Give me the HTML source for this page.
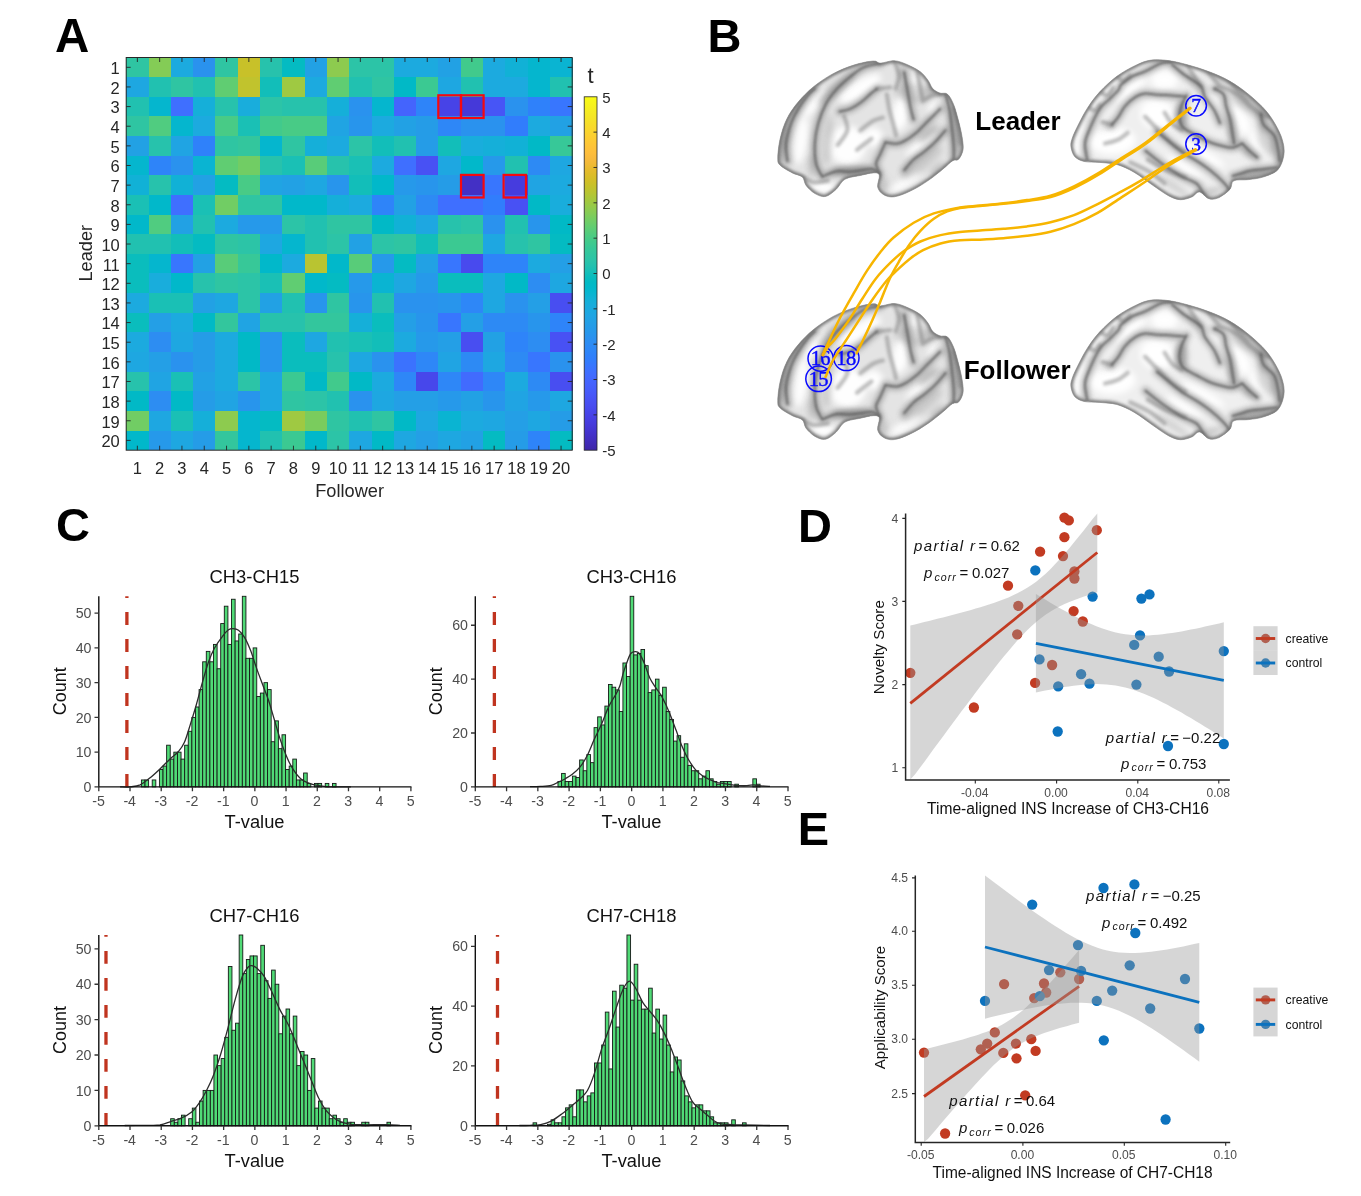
<!DOCTYPE html>
<html><head><meta charset="utf-8"><title>Figure</title>
<style>html,body{margin:0;padding:0;background:#fff}svg{display:block}</style>
</head><body>
<svg width="1361" height="1196" viewBox="0 0 1361 1196">
<rect width="1361" height="1196" fill="#ffffff"/>
<g id="panelA" font-family="'Liberation Sans', Arial, sans-serif">
<text x="55" y="52.3" font-size="47.5" font-weight="bold" fill="#000">A</text>
<g shape-rendering="crispEdges">
<rect x="126.20" y="57.50" width="22.60" height="19.93" fill="#2fc5a2"/>
<rect x="148.50" y="57.50" width="22.60" height="19.93" fill="#84cc56"/>
<rect x="170.80" y="57.50" width="22.60" height="19.93" fill="#1caadf"/>
<rect x="193.10" y="57.50" width="22.60" height="19.93" fill="#2a92ee"/>
<rect x="215.40" y="57.50" width="22.60" height="19.93" fill="#2fc5a2"/>
<rect x="237.70" y="57.50" width="22.60" height="19.93" fill="#c8c129"/>
<rect x="260.00" y="57.50" width="22.60" height="19.93" fill="#27c2ac"/>
<rect x="282.30" y="57.50" width="22.60" height="19.93" fill="#04bbc2"/>
<rect x="304.60" y="57.50" width="22.60" height="19.93" fill="#22a1e4"/>
<rect x="326.90" y="57.50" width="22.60" height="19.93" fill="#8dcb4f"/>
<rect x="349.20" y="57.50" width="22.60" height="19.93" fill="#2cc4a7"/>
<rect x="371.50" y="57.50" width="22.60" height="19.93" fill="#2cc4a7"/>
<rect x="393.80" y="57.50" width="22.60" height="19.93" fill="#1caadf"/>
<rect x="416.10" y="57.50" width="22.60" height="19.93" fill="#1caadf"/>
<rect x="438.40" y="57.50" width="22.60" height="19.93" fill="#22a1e4"/>
<rect x="460.70" y="57.50" width="22.60" height="19.93" fill="#41ca8c"/>
<rect x="483.00" y="57.50" width="22.60" height="19.93" fill="#1caadf"/>
<rect x="505.30" y="57.50" width="22.60" height="19.93" fill="#11b1d6"/>
<rect x="527.60" y="57.50" width="22.60" height="19.93" fill="#05b6ce"/>
<rect x="549.90" y="57.50" width="22.60" height="19.93" fill="#0ab4d2"/>
<rect x="126.20" y="77.13" width="22.60" height="19.93" fill="#1ea7e1"/>
<rect x="148.50" y="77.13" width="22.60" height="19.93" fill="#21c1b0"/>
<rect x="170.80" y="77.13" width="22.60" height="19.93" fill="#2fc5a2"/>
<rect x="193.10" y="77.13" width="22.60" height="19.93" fill="#21c1b0"/>
<rect x="215.40" y="77.13" width="22.60" height="19.93" fill="#60cd72"/>
<rect x="237.70" y="77.13" width="22.60" height="19.93" fill="#c1c32d"/>
<rect x="260.00" y="77.13" width="22.60" height="19.93" fill="#12beb9"/>
<rect x="282.30" y="77.13" width="22.60" height="19.93" fill="#9fc942"/>
<rect x="304.60" y="77.13" width="22.60" height="19.93" fill="#1caadf"/>
<rect x="326.90" y="77.13" width="22.60" height="19.93" fill="#60cd72"/>
<rect x="349.20" y="77.13" width="22.60" height="19.93" fill="#21c1b0"/>
<rect x="371.50" y="77.13" width="22.60" height="19.93" fill="#2fc5a2"/>
<rect x="393.80" y="77.13" width="22.60" height="19.93" fill="#01b9c6"/>
<rect x="416.10" y="77.13" width="22.60" height="19.93" fill="#3bc992"/>
<rect x="438.40" y="77.13" width="22.60" height="19.93" fill="#1ea7e1"/>
<rect x="460.70" y="77.13" width="22.60" height="19.93" fill="#21c1b0"/>
<rect x="483.00" y="77.13" width="22.60" height="19.93" fill="#1caadf"/>
<rect x="505.30" y="77.13" width="22.60" height="19.93" fill="#1caadf"/>
<rect x="527.60" y="77.13" width="22.60" height="19.93" fill="#05b6ce"/>
<rect x="549.90" y="77.13" width="22.60" height="19.93" fill="#21c1b0"/>
<rect x="126.20" y="96.77" width="22.60" height="19.93" fill="#21c1b0"/>
<rect x="148.50" y="96.77" width="22.60" height="19.93" fill="#05b6ce"/>
<rect x="170.80" y="96.77" width="22.60" height="19.93" fill="#3f6fff"/>
<rect x="193.10" y="96.77" width="22.60" height="19.93" fill="#15afd9"/>
<rect x="215.40" y="96.77" width="22.60" height="19.93" fill="#27c2ac"/>
<rect x="237.70" y="96.77" width="22.60" height="19.93" fill="#19addc"/>
<rect x="260.00" y="96.77" width="22.60" height="19.93" fill="#2cc4a7"/>
<rect x="282.30" y="96.77" width="22.60" height="19.93" fill="#27c2ac"/>
<rect x="304.60" y="96.77" width="22.60" height="19.93" fill="#27c2ac"/>
<rect x="326.90" y="96.77" width="22.60" height="19.93" fill="#15afd9"/>
<rect x="349.20" y="96.77" width="22.60" height="19.93" fill="#2a92ee"/>
<rect x="371.50" y="96.77" width="22.60" height="19.93" fill="#05b6ce"/>
<rect x="393.80" y="96.77" width="22.60" height="19.93" fill="#4464fd"/>
<rect x="416.10" y="96.77" width="22.60" height="19.93" fill="#2e84f9"/>
<rect x="438.40" y="96.77" width="22.60" height="19.93" fill="#4743e7"/>
<rect x="460.70" y="96.77" width="22.60" height="19.93" fill="#4539d9"/>
<rect x="483.00" y="96.77" width="22.60" height="19.93" fill="#4755f6"/>
<rect x="505.30" y="96.77" width="22.60" height="19.93" fill="#2a92ee"/>
<rect x="527.60" y="96.77" width="22.60" height="19.93" fill="#2f81fa"/>
<rect x="549.90" y="96.77" width="22.60" height="19.93" fill="#3876fe"/>
<rect x="126.20" y="116.41" width="22.60" height="19.93" fill="#2fc5a2"/>
<rect x="148.50" y="116.41" width="22.60" height="19.93" fill="#50cc80"/>
<rect x="170.80" y="116.41" width="22.60" height="19.93" fill="#05b6ce"/>
<rect x="193.10" y="116.41" width="22.60" height="19.93" fill="#1caadf"/>
<rect x="215.40" y="116.41" width="22.60" height="19.93" fill="#48cb86"/>
<rect x="237.70" y="116.41" width="22.60" height="19.93" fill="#1ac0b5"/>
<rect x="260.00" y="116.41" width="22.60" height="19.93" fill="#41ca8c"/>
<rect x="282.30" y="116.41" width="22.60" height="19.93" fill="#48cb86"/>
<rect x="304.60" y="116.41" width="22.60" height="19.93" fill="#48cb86"/>
<rect x="326.90" y="116.41" width="22.60" height="19.93" fill="#20a4e3"/>
<rect x="349.20" y="116.41" width="22.60" height="19.93" fill="#2895ec"/>
<rect x="371.50" y="116.41" width="22.60" height="19.93" fill="#1caadf"/>
<rect x="393.80" y="116.41" width="22.60" height="19.93" fill="#22a1e4"/>
<rect x="416.10" y="116.41" width="22.60" height="19.93" fill="#259ce7"/>
<rect x="438.40" y="116.41" width="22.60" height="19.93" fill="#2e87f7"/>
<rect x="460.70" y="116.41" width="22.60" height="19.93" fill="#2a92ee"/>
<rect x="483.00" y="116.41" width="22.60" height="19.93" fill="#2a92ee"/>
<rect x="505.30" y="116.41" width="22.60" height="19.93" fill="#317dfc"/>
<rect x="527.60" y="116.41" width="22.60" height="19.93" fill="#1caadf"/>
<rect x="549.90" y="116.41" width="22.60" height="19.93" fill="#22a1e4"/>
<rect x="126.20" y="136.04" width="22.60" height="19.93" fill="#22a1e4"/>
<rect x="148.50" y="136.04" width="22.60" height="19.93" fill="#27c2ac"/>
<rect x="170.80" y="136.04" width="22.60" height="19.93" fill="#20a4e3"/>
<rect x="193.10" y="136.04" width="22.60" height="19.93" fill="#2f81fa"/>
<rect x="215.40" y="136.04" width="22.60" height="19.93" fill="#2fc5a2"/>
<rect x="237.70" y="136.04" width="22.60" height="19.93" fill="#33c69d"/>
<rect x="260.00" y="136.04" width="22.60" height="19.93" fill="#05b6ce"/>
<rect x="282.30" y="136.04" width="22.60" height="19.93" fill="#2fc5a2"/>
<rect x="304.60" y="136.04" width="22.60" height="19.93" fill="#15afd9"/>
<rect x="326.90" y="136.04" width="22.60" height="19.93" fill="#1caadf"/>
<rect x="349.20" y="136.04" width="22.60" height="19.93" fill="#2cc4a7"/>
<rect x="371.50" y="136.04" width="22.60" height="19.93" fill="#12beb9"/>
<rect x="393.80" y="136.04" width="22.60" height="19.93" fill="#21c1b0"/>
<rect x="416.10" y="136.04" width="22.60" height="19.93" fill="#259ce7"/>
<rect x="438.40" y="136.04" width="22.60" height="19.93" fill="#12beb9"/>
<rect x="460.70" y="136.04" width="22.60" height="19.93" fill="#19addc"/>
<rect x="483.00" y="136.04" width="22.60" height="19.93" fill="#15afd9"/>
<rect x="505.30" y="136.04" width="22.60" height="19.93" fill="#11b1d6"/>
<rect x="527.60" y="136.04" width="22.60" height="19.93" fill="#01b9c6"/>
<rect x="549.90" y="136.04" width="22.60" height="19.93" fill="#37c898"/>
<rect x="126.20" y="155.67" width="22.60" height="19.93" fill="#05b6ce"/>
<rect x="148.50" y="155.67" width="22.60" height="19.93" fill="#2e84f9"/>
<rect x="170.80" y="155.67" width="22.60" height="19.93" fill="#2a92ee"/>
<rect x="193.10" y="155.67" width="22.60" height="19.93" fill="#0ab4d2"/>
<rect x="215.40" y="155.67" width="22.60" height="19.93" fill="#60cd72"/>
<rect x="237.70" y="155.67" width="22.60" height="19.93" fill="#71cd64"/>
<rect x="260.00" y="155.67" width="22.60" height="19.93" fill="#27c2ac"/>
<rect x="282.30" y="155.67" width="22.60" height="19.93" fill="#1ac0b5"/>
<rect x="304.60" y="155.67" width="22.60" height="19.93" fill="#58cc79"/>
<rect x="326.90" y="155.67" width="22.60" height="19.93" fill="#27c2ac"/>
<rect x="349.20" y="155.67" width="22.60" height="19.93" fill="#1ac0b5"/>
<rect x="371.50" y="155.67" width="22.60" height="19.93" fill="#1caadf"/>
<rect x="393.80" y="155.67" width="22.60" height="19.93" fill="#3f6fff"/>
<rect x="416.10" y="155.67" width="22.60" height="19.93" fill="#4851f4"/>
<rect x="438.40" y="155.67" width="22.60" height="19.93" fill="#1ea7e1"/>
<rect x="460.70" y="155.67" width="22.60" height="19.93" fill="#01b8ca"/>
<rect x="483.00" y="155.67" width="22.60" height="19.93" fill="#2699ea"/>
<rect x="505.30" y="155.67" width="22.60" height="19.93" fill="#21c1b0"/>
<rect x="527.60" y="155.67" width="22.60" height="19.93" fill="#2d8af4"/>
<rect x="549.90" y="155.67" width="22.60" height="19.93" fill="#1ea7e1"/>
<rect x="126.20" y="175.31" width="22.60" height="19.93" fill="#11b1d6"/>
<rect x="148.50" y="175.31" width="22.60" height="19.93" fill="#27c2ac"/>
<rect x="170.80" y="175.31" width="22.60" height="19.93" fill="#11b1d6"/>
<rect x="193.10" y="175.31" width="22.60" height="19.93" fill="#22a1e4"/>
<rect x="215.40" y="175.31" width="22.60" height="19.93" fill="#04bbc2"/>
<rect x="237.70" y="175.31" width="22.60" height="19.93" fill="#48cb86"/>
<rect x="260.00" y="175.31" width="22.60" height="19.93" fill="#20a4e3"/>
<rect x="282.30" y="175.31" width="22.60" height="19.93" fill="#22a1e4"/>
<rect x="304.60" y="175.31" width="22.60" height="19.93" fill="#1ea7e1"/>
<rect x="326.90" y="175.31" width="22.60" height="19.93" fill="#2895ec"/>
<rect x="349.20" y="175.31" width="22.60" height="19.93" fill="#12beb9"/>
<rect x="371.50" y="175.31" width="22.60" height="19.93" fill="#01b8ca"/>
<rect x="393.80" y="175.31" width="22.60" height="19.93" fill="#2699ea"/>
<rect x="416.10" y="175.31" width="22.60" height="19.93" fill="#2895ec"/>
<rect x="438.40" y="175.31" width="22.60" height="19.93" fill="#259ce7"/>
<rect x="460.70" y="175.31" width="22.60" height="19.93" fill="#4330c5"/>
<rect x="483.00" y="175.31" width="22.60" height="19.93" fill="#3876fe"/>
<rect x="505.30" y="175.31" width="22.60" height="19.93" fill="#463cde"/>
<rect x="527.60" y="175.31" width="22.60" height="19.93" fill="#20a4e3"/>
<rect x="549.90" y="175.31" width="22.60" height="19.93" fill="#1caadf"/>
<rect x="126.20" y="194.94" width="22.60" height="19.93" fill="#1ac0b5"/>
<rect x="148.50" y="194.94" width="22.60" height="19.93" fill="#01b8ca"/>
<rect x="170.80" y="194.94" width="22.60" height="19.93" fill="#3f6fff"/>
<rect x="193.10" y="194.94" width="22.60" height="19.93" fill="#1ac0b5"/>
<rect x="215.40" y="194.94" width="22.60" height="19.93" fill="#71cd64"/>
<rect x="237.70" y="194.94" width="22.60" height="19.93" fill="#2fc5a2"/>
<rect x="260.00" y="194.94" width="22.60" height="19.93" fill="#2fc5a2"/>
<rect x="282.30" y="194.94" width="22.60" height="19.93" fill="#01b8ca"/>
<rect x="304.60" y="194.94" width="22.60" height="19.93" fill="#01b8ca"/>
<rect x="326.90" y="194.94" width="22.60" height="19.93" fill="#15afd9"/>
<rect x="349.20" y="194.94" width="22.60" height="19.93" fill="#1caadf"/>
<rect x="371.50" y="194.94" width="22.60" height="19.93" fill="#2e84f9"/>
<rect x="393.80" y="194.94" width="22.60" height="19.93" fill="#22a1e4"/>
<rect x="416.10" y="194.94" width="22.60" height="19.93" fill="#2d8af4"/>
<rect x="438.40" y="194.94" width="22.60" height="19.93" fill="#3f6fff"/>
<rect x="460.70" y="194.94" width="22.60" height="19.93" fill="#3f6fff"/>
<rect x="483.00" y="194.94" width="22.60" height="19.93" fill="#317dfc"/>
<rect x="505.30" y="194.94" width="22.60" height="19.93" fill="#4851f4"/>
<rect x="527.60" y="194.94" width="22.60" height="19.93" fill="#01b9c6"/>
<rect x="549.90" y="194.94" width="22.60" height="19.93" fill="#19addc"/>
<rect x="126.20" y="214.58" width="22.60" height="19.93" fill="#01b8ca"/>
<rect x="148.50" y="214.58" width="22.60" height="19.93" fill="#50cc80"/>
<rect x="170.80" y="214.58" width="22.60" height="19.93" fill="#22a1e4"/>
<rect x="193.10" y="214.58" width="22.60" height="19.93" fill="#21c1b0"/>
<rect x="215.40" y="214.58" width="22.60" height="19.93" fill="#1caadf"/>
<rect x="237.70" y="214.58" width="22.60" height="19.93" fill="#2699ea"/>
<rect x="260.00" y="214.58" width="22.60" height="19.93" fill="#2699ea"/>
<rect x="282.30" y="214.58" width="22.60" height="19.93" fill="#2cc4a7"/>
<rect x="304.60" y="214.58" width="22.60" height="19.93" fill="#21c1b0"/>
<rect x="326.90" y="214.58" width="22.60" height="19.93" fill="#2fc5a2"/>
<rect x="349.20" y="214.58" width="22.60" height="19.93" fill="#2fc5a2"/>
<rect x="371.50" y="214.58" width="22.60" height="19.93" fill="#01b9c6"/>
<rect x="393.80" y="214.58" width="22.60" height="19.93" fill="#11b1d6"/>
<rect x="416.10" y="214.58" width="22.60" height="19.93" fill="#1ea7e1"/>
<rect x="438.40" y="214.58" width="22.60" height="19.93" fill="#27c2ac"/>
<rect x="460.70" y="214.58" width="22.60" height="19.93" fill="#2cc4a7"/>
<rect x="483.00" y="214.58" width="22.60" height="19.93" fill="#2a92ee"/>
<rect x="505.30" y="214.58" width="22.60" height="19.93" fill="#21c1b0"/>
<rect x="527.60" y="214.58" width="22.60" height="19.93" fill="#2895ec"/>
<rect x="549.90" y="214.58" width="22.60" height="19.93" fill="#01b9c6"/>
<rect x="126.20" y="234.21" width="22.60" height="19.93" fill="#21c1b0"/>
<rect x="148.50" y="234.21" width="22.60" height="19.93" fill="#21c1b0"/>
<rect x="170.80" y="234.21" width="22.60" height="19.93" fill="#12beb9"/>
<rect x="193.10" y="234.21" width="22.60" height="19.93" fill="#04bbc2"/>
<rect x="215.40" y="234.21" width="22.60" height="19.93" fill="#2fc5a2"/>
<rect x="237.70" y="234.21" width="22.60" height="19.93" fill="#2cc4a7"/>
<rect x="260.00" y="234.21" width="22.60" height="19.93" fill="#1ea7e1"/>
<rect x="282.30" y="234.21" width="22.60" height="19.93" fill="#05b6ce"/>
<rect x="304.60" y="234.21" width="22.60" height="19.93" fill="#21c1b0"/>
<rect x="326.90" y="234.21" width="22.60" height="19.93" fill="#2cc4a7"/>
<rect x="349.20" y="234.21" width="22.60" height="19.93" fill="#22a1e4"/>
<rect x="371.50" y="234.21" width="22.60" height="19.93" fill="#2cc4a7"/>
<rect x="393.80" y="234.21" width="22.60" height="19.93" fill="#2fc5a2"/>
<rect x="416.10" y="234.21" width="22.60" height="19.93" fill="#12beb9"/>
<rect x="438.40" y="234.21" width="22.60" height="19.93" fill="#3bc992"/>
<rect x="460.70" y="234.21" width="22.60" height="19.93" fill="#3bc992"/>
<rect x="483.00" y="234.21" width="22.60" height="19.93" fill="#1ea7e1"/>
<rect x="505.30" y="234.21" width="22.60" height="19.93" fill="#27c2ac"/>
<rect x="527.60" y="234.21" width="22.60" height="19.93" fill="#2fc5a2"/>
<rect x="549.90" y="234.21" width="22.60" height="19.93" fill="#04bbc2"/>
<rect x="126.20" y="253.85" width="22.60" height="19.93" fill="#0abdbd"/>
<rect x="148.50" y="253.85" width="22.60" height="19.93" fill="#05b6ce"/>
<rect x="170.80" y="253.85" width="22.60" height="19.93" fill="#3876fe"/>
<rect x="193.10" y="253.85" width="22.60" height="19.93" fill="#22a1e4"/>
<rect x="215.40" y="253.85" width="22.60" height="19.93" fill="#58cc79"/>
<rect x="237.70" y="253.85" width="22.60" height="19.93" fill="#37c898"/>
<rect x="260.00" y="253.85" width="22.60" height="19.93" fill="#01b8ca"/>
<rect x="282.30" y="253.85" width="22.60" height="19.93" fill="#1caadf"/>
<rect x="304.60" y="253.85" width="22.60" height="19.93" fill="#b9c431"/>
<rect x="326.90" y="253.85" width="22.60" height="19.93" fill="#01b8ca"/>
<rect x="349.20" y="253.85" width="22.60" height="19.93" fill="#58cc79"/>
<rect x="371.50" y="253.85" width="22.60" height="19.93" fill="#2699ea"/>
<rect x="393.80" y="253.85" width="22.60" height="19.93" fill="#04bbc2"/>
<rect x="416.10" y="253.85" width="22.60" height="19.93" fill="#22a1e4"/>
<rect x="438.40" y="253.85" width="22.60" height="19.93" fill="#3876fe"/>
<rect x="460.70" y="253.85" width="22.60" height="19.93" fill="#484aee"/>
<rect x="483.00" y="253.85" width="22.60" height="19.93" fill="#2e84f9"/>
<rect x="505.30" y="253.85" width="22.60" height="19.93" fill="#2e84f9"/>
<rect x="527.60" y="253.85" width="22.60" height="19.93" fill="#1caadf"/>
<rect x="549.90" y="253.85" width="22.60" height="19.93" fill="#249fe6"/>
<rect x="126.20" y="273.49" width="22.60" height="19.93" fill="#0abdbd"/>
<rect x="148.50" y="273.49" width="22.60" height="19.93" fill="#19addc"/>
<rect x="170.80" y="273.49" width="22.60" height="19.93" fill="#01b8ca"/>
<rect x="193.10" y="273.49" width="22.60" height="19.93" fill="#27c2ac"/>
<rect x="215.40" y="273.49" width="22.60" height="19.93" fill="#2fc5a2"/>
<rect x="237.70" y="273.49" width="22.60" height="19.93" fill="#2cc4a7"/>
<rect x="260.00" y="273.49" width="22.60" height="19.93" fill="#1ac0b5"/>
<rect x="282.30" y="273.49" width="22.60" height="19.93" fill="#60cd72"/>
<rect x="304.60" y="273.49" width="22.60" height="19.93" fill="#01b8ca"/>
<rect x="326.90" y="273.49" width="22.60" height="19.93" fill="#04bbc2"/>
<rect x="349.20" y="273.49" width="22.60" height="19.93" fill="#2699ea"/>
<rect x="371.50" y="273.49" width="22.60" height="19.93" fill="#0ab4d2"/>
<rect x="393.80" y="273.49" width="22.60" height="19.93" fill="#1ea7e1"/>
<rect x="416.10" y="273.49" width="22.60" height="19.93" fill="#2699ea"/>
<rect x="438.40" y="273.49" width="22.60" height="19.93" fill="#0abdbd"/>
<rect x="460.70" y="273.49" width="22.60" height="19.93" fill="#0abdbd"/>
<rect x="483.00" y="273.49" width="22.60" height="19.93" fill="#1ea7e1"/>
<rect x="505.30" y="273.49" width="22.60" height="19.93" fill="#01b9c6"/>
<rect x="527.60" y="273.49" width="22.60" height="19.93" fill="#2d8df2"/>
<rect x="549.90" y="273.49" width="22.60" height="19.93" fill="#1ea7e1"/>
<rect x="126.20" y="293.12" width="22.60" height="19.93" fill="#1caadf"/>
<rect x="148.50" y="293.12" width="22.60" height="19.93" fill="#1ac0b5"/>
<rect x="170.80" y="293.12" width="22.60" height="19.93" fill="#1ac0b5"/>
<rect x="193.10" y="293.12" width="22.60" height="19.93" fill="#22a1e4"/>
<rect x="215.40" y="293.12" width="22.60" height="19.93" fill="#1ea7e1"/>
<rect x="237.70" y="293.12" width="22.60" height="19.93" fill="#2cc4a7"/>
<rect x="260.00" y="293.12" width="22.60" height="19.93" fill="#22a1e4"/>
<rect x="282.30" y="293.12" width="22.60" height="19.93" fill="#21c1b0"/>
<rect x="304.60" y="293.12" width="22.60" height="19.93" fill="#2895ec"/>
<rect x="326.90" y="293.12" width="22.60" height="19.93" fill="#2fc5a2"/>
<rect x="349.20" y="293.12" width="22.60" height="19.93" fill="#2895ec"/>
<rect x="371.50" y="293.12" width="22.60" height="19.93" fill="#21c1b0"/>
<rect x="393.80" y="293.12" width="22.60" height="19.93" fill="#2a92ee"/>
<rect x="416.10" y="293.12" width="22.60" height="19.93" fill="#2a92ee"/>
<rect x="438.40" y="293.12" width="22.60" height="19.93" fill="#2895ec"/>
<rect x="460.70" y="293.12" width="22.60" height="19.93" fill="#2e87f7"/>
<rect x="483.00" y="293.12" width="22.60" height="19.93" fill="#1ea7e1"/>
<rect x="505.30" y="293.12" width="22.60" height="19.93" fill="#2a92ee"/>
<rect x="527.60" y="293.12" width="22.60" height="19.93" fill="#249fe6"/>
<rect x="549.90" y="293.12" width="22.60" height="19.93" fill="#484ef1"/>
<rect x="126.20" y="312.75" width="22.60" height="19.93" fill="#0abdbd"/>
<rect x="148.50" y="312.75" width="22.60" height="19.93" fill="#249fe6"/>
<rect x="170.80" y="312.75" width="22.60" height="19.93" fill="#1caadf"/>
<rect x="193.10" y="312.75" width="22.60" height="19.93" fill="#01b9c6"/>
<rect x="215.40" y="312.75" width="22.60" height="19.93" fill="#33c69d"/>
<rect x="237.70" y="312.75" width="22.60" height="19.93" fill="#20a4e3"/>
<rect x="260.00" y="312.75" width="22.60" height="19.93" fill="#27c2ac"/>
<rect x="282.30" y="312.75" width="22.60" height="19.93" fill="#27c2ac"/>
<rect x="304.60" y="312.75" width="22.60" height="19.93" fill="#33c69d"/>
<rect x="326.90" y="312.75" width="22.60" height="19.93" fill="#33c69d"/>
<rect x="349.20" y="312.75" width="22.60" height="19.93" fill="#15afd9"/>
<rect x="371.50" y="312.75" width="22.60" height="19.93" fill="#0abdbd"/>
<rect x="393.80" y="312.75" width="22.60" height="19.93" fill="#249fe6"/>
<rect x="416.10" y="312.75" width="22.60" height="19.93" fill="#2895ec"/>
<rect x="438.40" y="312.75" width="22.60" height="19.93" fill="#3876fe"/>
<rect x="460.70" y="312.75" width="22.60" height="19.93" fill="#249fe6"/>
<rect x="483.00" y="312.75" width="22.60" height="19.93" fill="#2d8af4"/>
<rect x="505.30" y="312.75" width="22.60" height="19.93" fill="#2d8af4"/>
<rect x="527.60" y="312.75" width="22.60" height="19.93" fill="#2895ec"/>
<rect x="549.90" y="312.75" width="22.60" height="19.93" fill="#2e84f9"/>
<rect x="126.20" y="332.39" width="22.60" height="19.93" fill="#1caadf"/>
<rect x="148.50" y="332.39" width="22.60" height="19.93" fill="#2d8df2"/>
<rect x="170.80" y="332.39" width="22.60" height="19.93" fill="#1ea7e1"/>
<rect x="193.10" y="332.39" width="22.60" height="19.93" fill="#259ce7"/>
<rect x="215.40" y="332.39" width="22.60" height="19.93" fill="#1caadf"/>
<rect x="237.70" y="332.39" width="22.60" height="19.93" fill="#01b9c6"/>
<rect x="260.00" y="332.39" width="22.60" height="19.93" fill="#2895ec"/>
<rect x="282.30" y="332.39" width="22.60" height="19.93" fill="#0abdbd"/>
<rect x="304.60" y="332.39" width="22.60" height="19.93" fill="#1ea7e1"/>
<rect x="326.90" y="332.39" width="22.60" height="19.93" fill="#21c1b0"/>
<rect x="349.20" y="332.39" width="22.60" height="19.93" fill="#1ac0b5"/>
<rect x="371.50" y="332.39" width="22.60" height="19.93" fill="#12beb9"/>
<rect x="393.80" y="332.39" width="22.60" height="19.93" fill="#1caadf"/>
<rect x="416.10" y="332.39" width="22.60" height="19.93" fill="#2699ea"/>
<rect x="438.40" y="332.39" width="22.60" height="19.93" fill="#249fe6"/>
<rect x="460.70" y="332.39" width="22.60" height="19.93" fill="#484ef1"/>
<rect x="483.00" y="332.39" width="22.60" height="19.93" fill="#22a1e4"/>
<rect x="505.30" y="332.39" width="22.60" height="19.93" fill="#2e84f9"/>
<rect x="527.60" y="332.39" width="22.60" height="19.93" fill="#2d8df2"/>
<rect x="549.90" y="332.39" width="22.60" height="19.93" fill="#4851f4"/>
<rect x="126.20" y="352.02" width="22.60" height="19.93" fill="#1ea7e1"/>
<rect x="148.50" y="352.02" width="22.60" height="19.93" fill="#249fe6"/>
<rect x="170.80" y="352.02" width="22.60" height="19.93" fill="#2a92ee"/>
<rect x="193.10" y="352.02" width="22.60" height="19.93" fill="#259ce7"/>
<rect x="215.40" y="352.02" width="22.60" height="19.93" fill="#1caadf"/>
<rect x="237.70" y="352.02" width="22.60" height="19.93" fill="#01b9c6"/>
<rect x="260.00" y="352.02" width="22.60" height="19.93" fill="#2895ec"/>
<rect x="282.30" y="352.02" width="22.60" height="19.93" fill="#0abdbd"/>
<rect x="304.60" y="352.02" width="22.60" height="19.93" fill="#0abdbd"/>
<rect x="326.90" y="352.02" width="22.60" height="19.93" fill="#27c2ac"/>
<rect x="349.20" y="352.02" width="22.60" height="19.93" fill="#1ea7e1"/>
<rect x="371.50" y="352.02" width="22.60" height="19.93" fill="#2a92ee"/>
<rect x="393.80" y="352.02" width="22.60" height="19.93" fill="#3b72fe"/>
<rect x="416.10" y="352.02" width="22.60" height="19.93" fill="#2e87f7"/>
<rect x="438.40" y="352.02" width="22.60" height="19.93" fill="#20a4e3"/>
<rect x="460.70" y="352.02" width="22.60" height="19.93" fill="#2d8af4"/>
<rect x="483.00" y="352.02" width="22.60" height="19.93" fill="#1ea7e1"/>
<rect x="505.30" y="352.02" width="22.60" height="19.93" fill="#2d8af4"/>
<rect x="527.60" y="352.02" width="22.60" height="19.93" fill="#3876fe"/>
<rect x="549.90" y="352.02" width="22.60" height="19.93" fill="#2a92ee"/>
<rect x="126.20" y="371.66" width="22.60" height="19.93" fill="#27c2ac"/>
<rect x="148.50" y="371.66" width="22.60" height="19.93" fill="#20a4e3"/>
<rect x="170.80" y="371.66" width="22.60" height="19.93" fill="#1ac0b5"/>
<rect x="193.10" y="371.66" width="22.60" height="19.93" fill="#22a1e4"/>
<rect x="215.40" y="371.66" width="22.60" height="19.93" fill="#1caadf"/>
<rect x="237.70" y="371.66" width="22.60" height="19.93" fill="#2cc4a7"/>
<rect x="260.00" y="371.66" width="22.60" height="19.93" fill="#1ea7e1"/>
<rect x="282.30" y="371.66" width="22.60" height="19.93" fill="#3bc992"/>
<rect x="304.60" y="371.66" width="22.60" height="19.93" fill="#01b9c6"/>
<rect x="326.90" y="371.66" width="22.60" height="19.93" fill="#41ca8c"/>
<rect x="349.20" y="371.66" width="22.60" height="19.93" fill="#01b9c6"/>
<rect x="371.50" y="371.66" width="22.60" height="19.93" fill="#1caadf"/>
<rect x="393.80" y="371.66" width="22.60" height="19.93" fill="#2e87f7"/>
<rect x="416.10" y="371.66" width="22.60" height="19.93" fill="#4747eb"/>
<rect x="438.40" y="371.66" width="22.60" height="19.93" fill="#2e87f7"/>
<rect x="460.70" y="371.66" width="22.60" height="19.93" fill="#416bfe"/>
<rect x="483.00" y="371.66" width="22.60" height="19.93" fill="#2e87f7"/>
<rect x="505.30" y="371.66" width="22.60" height="19.93" fill="#1caadf"/>
<rect x="527.60" y="371.66" width="22.60" height="19.93" fill="#2d8af4"/>
<rect x="549.90" y="371.66" width="22.60" height="19.93" fill="#484ef1"/>
<rect x="126.20" y="391.29" width="22.60" height="19.93" fill="#01b9c6"/>
<rect x="148.50" y="391.29" width="22.60" height="19.93" fill="#2d8df2"/>
<rect x="170.80" y="391.29" width="22.60" height="19.93" fill="#01b9c6"/>
<rect x="193.10" y="391.29" width="22.60" height="19.93" fill="#259ce7"/>
<rect x="215.40" y="391.29" width="22.60" height="19.93" fill="#20a4e3"/>
<rect x="237.70" y="391.29" width="22.60" height="19.93" fill="#2895ec"/>
<rect x="260.00" y="391.29" width="22.60" height="19.93" fill="#1ea7e1"/>
<rect x="282.30" y="391.29" width="22.60" height="19.93" fill="#2fc5a2"/>
<rect x="304.60" y="391.29" width="22.60" height="19.93" fill="#2cc4a7"/>
<rect x="326.90" y="391.29" width="22.60" height="19.93" fill="#21c1b0"/>
<rect x="349.20" y="391.29" width="22.60" height="19.93" fill="#2a92ee"/>
<rect x="371.50" y="391.29" width="22.60" height="19.93" fill="#1ea7e1"/>
<rect x="393.80" y="391.29" width="22.60" height="19.93" fill="#249fe6"/>
<rect x="416.10" y="391.29" width="22.60" height="19.93" fill="#249fe6"/>
<rect x="438.40" y="391.29" width="22.60" height="19.93" fill="#2699ea"/>
<rect x="460.70" y="391.29" width="22.60" height="19.93" fill="#22a1e4"/>
<rect x="483.00" y="391.29" width="22.60" height="19.93" fill="#2895ec"/>
<rect x="505.30" y="391.29" width="22.60" height="19.93" fill="#20a4e3"/>
<rect x="527.60" y="391.29" width="22.60" height="19.93" fill="#2699ea"/>
<rect x="549.90" y="391.29" width="22.60" height="19.93" fill="#1ea7e1"/>
<rect x="126.20" y="410.93" width="22.60" height="19.93" fill="#71cd64"/>
<rect x="148.50" y="410.93" width="22.60" height="19.93" fill="#1ea7e1"/>
<rect x="170.80" y="410.93" width="22.60" height="19.93" fill="#1ac0b5"/>
<rect x="193.10" y="410.93" width="22.60" height="19.93" fill="#15afd9"/>
<rect x="215.40" y="410.93" width="22.60" height="19.93" fill="#8dcb4f"/>
<rect x="237.70" y="410.93" width="22.60" height="19.93" fill="#05b6ce"/>
<rect x="260.00" y="410.93" width="22.60" height="19.93" fill="#04bbc2"/>
<rect x="282.30" y="410.93" width="22.60" height="19.93" fill="#9fc942"/>
<rect x="304.60" y="410.93" width="22.60" height="19.93" fill="#7acc5d"/>
<rect x="326.90" y="410.93" width="22.60" height="19.93" fill="#2fc5a2"/>
<rect x="349.20" y="410.93" width="22.60" height="19.93" fill="#21c1b0"/>
<rect x="371.50" y="410.93" width="22.60" height="19.93" fill="#2fc5a2"/>
<rect x="393.80" y="410.93" width="22.60" height="19.93" fill="#01b9c6"/>
<rect x="416.10" y="410.93" width="22.60" height="19.93" fill="#1ea7e1"/>
<rect x="438.40" y="410.93" width="22.60" height="19.93" fill="#0ab4d2"/>
<rect x="460.70" y="410.93" width="22.60" height="19.93" fill="#1caadf"/>
<rect x="483.00" y="410.93" width="22.60" height="19.93" fill="#1ea7e1"/>
<rect x="505.30" y="410.93" width="22.60" height="19.93" fill="#249fe6"/>
<rect x="527.60" y="410.93" width="22.60" height="19.93" fill="#1ea7e1"/>
<rect x="549.90" y="410.93" width="22.60" height="19.93" fill="#259ce7"/>
<rect x="126.20" y="430.56" width="22.60" height="19.93" fill="#01b8ca"/>
<rect x="148.50" y="430.56" width="22.60" height="19.93" fill="#2699ea"/>
<rect x="170.80" y="430.56" width="22.60" height="19.93" fill="#1ea7e1"/>
<rect x="193.10" y="430.56" width="22.60" height="19.93" fill="#259ce7"/>
<rect x="215.40" y="430.56" width="22.60" height="19.93" fill="#33c69d"/>
<rect x="237.70" y="430.56" width="22.60" height="19.93" fill="#05b6ce"/>
<rect x="260.00" y="430.56" width="22.60" height="19.93" fill="#21c1b0"/>
<rect x="282.30" y="430.56" width="22.60" height="19.93" fill="#3bc992"/>
<rect x="304.60" y="430.56" width="22.60" height="19.93" fill="#01b8ca"/>
<rect x="326.90" y="430.56" width="22.60" height="19.93" fill="#2cc4a7"/>
<rect x="349.20" y="430.56" width="22.60" height="19.93" fill="#1ea7e1"/>
<rect x="371.50" y="430.56" width="22.60" height="19.93" fill="#01b9c6"/>
<rect x="393.80" y="430.56" width="22.60" height="19.93" fill="#1ea7e1"/>
<rect x="416.10" y="430.56" width="22.60" height="19.93" fill="#249fe6"/>
<rect x="438.40" y="430.56" width="22.60" height="19.93" fill="#1ea7e1"/>
<rect x="460.70" y="430.56" width="22.60" height="19.93" fill="#22a1e4"/>
<rect x="483.00" y="430.56" width="22.60" height="19.93" fill="#04bbc2"/>
<rect x="505.30" y="430.56" width="22.60" height="19.93" fill="#259ce7"/>
<rect x="527.60" y="430.56" width="22.60" height="19.93" fill="#2e84f9"/>
<rect x="549.90" y="430.56" width="22.60" height="19.93" fill="#04bbc2"/>
</g>
<rect x="438.30" y="95.30" width="22.70" height="22.70" fill="none" stroke="#f5090f" stroke-width="2.2"/>
<rect x="461.00" y="95.30" width="22.60" height="22.70" fill="none" stroke="#f5090f" stroke-width="2.2"/>
<rect x="461.00" y="174.90" width="22.60" height="22.60" fill="none" stroke="#f5090f" stroke-width="2.2"/>
<rect x="503.60" y="174.90" width="22.40" height="22.60" fill="none" stroke="#f5090f" stroke-width="2.2"/>
<rect x="126.20" y="57.50" width="446.00" height="392.70" fill="none" stroke="#262626" stroke-width="1"/>
<path d="M137.35 450.20v-4.5M137.35 57.50v4.5M126.20 67.32h4.5M572.20 67.32h-4.5M159.65 450.20v-4.5M159.65 57.50v4.5M126.20 86.95h4.5M572.20 86.95h-4.5M181.95 450.20v-4.5M181.95 57.50v4.5M126.20 106.59h4.5M572.20 106.59h-4.5M204.25 450.20v-4.5M204.25 57.50v4.5M126.20 126.22h4.5M572.20 126.22h-4.5M226.55 450.20v-4.5M226.55 57.50v4.5M126.20 145.86h4.5M572.20 145.86h-4.5M248.85 450.20v-4.5M248.85 57.50v4.5M126.20 165.49h4.5M572.20 165.49h-4.5M271.15 450.20v-4.5M271.15 57.50v4.5M126.20 185.13h4.5M572.20 185.13h-4.5M293.45 450.20v-4.5M293.45 57.50v4.5M126.20 204.76h4.5M572.20 204.76h-4.5M315.75 450.20v-4.5M315.75 57.50v4.5M126.20 224.40h4.5M572.20 224.40h-4.5M338.05 450.20v-4.5M338.05 57.50v4.5M126.20 244.03h4.5M572.20 244.03h-4.5M360.35 450.20v-4.5M360.35 57.50v4.5M126.20 263.67h4.5M572.20 263.67h-4.5M382.65 450.20v-4.5M382.65 57.50v4.5M126.20 283.30h4.5M572.20 283.30h-4.5M404.95 450.20v-4.5M404.95 57.50v4.5M126.20 302.94h4.5M572.20 302.94h-4.5M427.25 450.20v-4.5M427.25 57.50v4.5M126.20 322.57h4.5M572.20 322.57h-4.5M449.55 450.20v-4.5M449.55 57.50v4.5M126.20 342.21h4.5M572.20 342.21h-4.5M471.85 450.20v-4.5M471.85 57.50v4.5M126.20 361.84h4.5M572.20 361.84h-4.5M494.15 450.20v-4.5M494.15 57.50v4.5M126.20 381.48h4.5M572.20 381.48h-4.5M516.45 450.20v-4.5M516.45 57.50v4.5M126.20 401.11h4.5M572.20 401.11h-4.5M538.75 450.20v-4.5M538.75 57.50v4.5M126.20 420.75h4.5M572.20 420.75h-4.5M561.05 450.20v-4.5M561.05 57.50v4.5M126.20 440.38h4.5M572.20 440.38h-4.5" stroke="#262626" stroke-width="0.9" fill="none"/>
<g font-size="16.5" fill="#262626">
<text x="137.35" y="473.6" text-anchor="middle">1</text>
<text x="119.8" y="74.22" text-anchor="end">1</text>
<text x="159.65" y="473.6" text-anchor="middle">2</text>
<text x="119.8" y="93.85" text-anchor="end">2</text>
<text x="181.95" y="473.6" text-anchor="middle">3</text>
<text x="119.8" y="113.49" text-anchor="end">3</text>
<text x="204.25" y="473.6" text-anchor="middle">4</text>
<text x="119.8" y="133.12" text-anchor="end">4</text>
<text x="226.55" y="473.6" text-anchor="middle">5</text>
<text x="119.8" y="152.76" text-anchor="end">5</text>
<text x="248.85" y="473.6" text-anchor="middle">6</text>
<text x="119.8" y="172.39" text-anchor="end">6</text>
<text x="271.15" y="473.6" text-anchor="middle">7</text>
<text x="119.8" y="192.03" text-anchor="end">7</text>
<text x="293.45" y="473.6" text-anchor="middle">8</text>
<text x="119.8" y="211.66" text-anchor="end">8</text>
<text x="315.75" y="473.6" text-anchor="middle">9</text>
<text x="119.8" y="231.30" text-anchor="end">9</text>
<text x="338.05" y="473.6" text-anchor="middle">10</text>
<text x="119.8" y="250.93" text-anchor="end">10</text>
<text x="360.35" y="473.6" text-anchor="middle">11</text>
<text x="119.8" y="270.57" text-anchor="end">11</text>
<text x="382.65" y="473.6" text-anchor="middle">12</text>
<text x="119.8" y="290.20" text-anchor="end">12</text>
<text x="404.95" y="473.6" text-anchor="middle">13</text>
<text x="119.8" y="309.84" text-anchor="end">13</text>
<text x="427.25" y="473.6" text-anchor="middle">14</text>
<text x="119.8" y="329.47" text-anchor="end">14</text>
<text x="449.55" y="473.6" text-anchor="middle">15</text>
<text x="119.8" y="349.11" text-anchor="end">15</text>
<text x="471.85" y="473.6" text-anchor="middle">16</text>
<text x="119.8" y="368.74" text-anchor="end">16</text>
<text x="494.15" y="473.6" text-anchor="middle">17</text>
<text x="119.8" y="388.38" text-anchor="end">17</text>
<text x="516.45" y="473.6" text-anchor="middle">18</text>
<text x="119.8" y="408.01" text-anchor="end">18</text>
<text x="538.75" y="473.6" text-anchor="middle">19</text>
<text x="119.8" y="427.65" text-anchor="end">19</text>
<text x="561.05" y="473.6" text-anchor="middle">20</text>
<text x="119.8" y="447.28" text-anchor="end">20</text>
</g>
<text x="349.6" y="497.2" font-size="18.2" text-anchor="middle" fill="#262626">Follower</text>
<text transform="translate(91.8 253.2) rotate(-90)" font-size="18.2" text-anchor="middle" fill="#262626">Leader</text>
<defs><linearGradient id="cb" x1="0" y1="1" x2="0" y2="0"><stop offset="0.0000" stop-color="#3e26a8"/><stop offset="0.0159" stop-color="#402ab4"/><stop offset="0.0317" stop-color="#422ec0"/><stop offset="0.0476" stop-color="#4332cb"/><stop offset="0.0635" stop-color="#4537d5"/><stop offset="0.0794" stop-color="#463cde"/><stop offset="0.0952" stop-color="#4741e5"/><stop offset="0.1111" stop-color="#4747eb"/><stop offset="0.1270" stop-color="#484df0"/><stop offset="0.1429" stop-color="#4852f4"/><stop offset="0.1587" stop-color="#4758f8"/><stop offset="0.1746" stop-color="#465efb"/><stop offset="0.1905" stop-color="#4563fd"/><stop offset="0.2063" stop-color="#4269fe"/><stop offset="0.2222" stop-color="#3e6fff"/><stop offset="0.2381" stop-color="#3875fe"/><stop offset="0.2540" stop-color="#327cfc"/><stop offset="0.2698" stop-color="#2f81fa"/><stop offset="0.2857" stop-color="#2e87f7"/><stop offset="0.3016" stop-color="#2d8cf3"/><stop offset="0.3175" stop-color="#2b91ef"/><stop offset="0.3333" stop-color="#2797eb"/><stop offset="0.3492" stop-color="#259be8"/><stop offset="0.3651" stop-color="#23a0e5"/><stop offset="0.3810" stop-color="#20a5e3"/><stop offset="0.3968" stop-color="#1ca9df"/><stop offset="0.4127" stop-color="#18addb"/><stop offset="0.4286" stop-color="#12b1d6"/><stop offset="0.4444" stop-color="#08b5d0"/><stop offset="0.4603" stop-color="#01b8ca"/><stop offset="0.4762" stop-color="#02bac3"/><stop offset="0.4921" stop-color="#0bbdbd"/><stop offset="0.5079" stop-color="#19bfb6"/><stop offset="0.5238" stop-color="#24c1ae"/><stop offset="0.5397" stop-color="#2cc4a7"/><stop offset="0.5556" stop-color="#31c69f"/><stop offset="0.5714" stop-color="#37c897"/><stop offset="0.5873" stop-color="#3fca8e"/><stop offset="0.6032" stop-color="#4acb84"/><stop offset="0.6190" stop-color="#57cc7a"/><stop offset="0.6349" stop-color="#64cd6f"/><stop offset="0.6508" stop-color="#72cd64"/><stop offset="0.6667" stop-color="#81cc59"/><stop offset="0.6825" stop-color="#8fcb4e"/><stop offset="0.6984" stop-color="#9dc943"/><stop offset="0.7143" stop-color="#abc739"/><stop offset="0.7302" stop-color="#b9c431"/><stop offset="0.7460" stop-color="#c5c22a"/><stop offset="0.7619" stop-color="#d1bf27"/><stop offset="0.7778" stop-color="#dcbd29"/><stop offset="0.7937" stop-color="#e6bb2d"/><stop offset="0.8095" stop-color="#f0ba36"/><stop offset="0.8254" stop-color="#f8ba3d"/><stop offset="0.8413" stop-color="#febe3c"/><stop offset="0.8571" stop-color="#fec338"/><stop offset="0.8730" stop-color="#fec934"/><stop offset="0.8889" stop-color="#fccf30"/><stop offset="0.9048" stop-color="#fad62d"/><stop offset="0.9206" stop-color="#f7dc2a"/><stop offset="0.9365" stop-color="#f5e327"/><stop offset="0.9524" stop-color="#f5e924"/><stop offset="0.9683" stop-color="#f6ef20"/><stop offset="0.9841" stop-color="#f7f51b"/><stop offset="1.0000" stop-color="#f9fb15"/></linearGradient></defs>
<rect x="584.20" y="96.80" width="12.80" height="353.40" fill="url(#cb)" stroke="#262626" stroke-width="0.8"/>
<g font-size="15" fill="#262626">
<text x="602.3" y="456.00">-5</text>
<text x="602.3" y="420.66">-4</text>
<text x="602.3" y="385.32">-3</text>
<text x="602.3" y="349.98">-2</text>
<text x="602.3" y="314.64">-1</text>
<text x="602.3" y="279.30">0</text>
<text x="602.3" y="243.96">1</text>
<text x="602.3" y="208.62">2</text>
<text x="602.3" y="173.28">3</text>
<text x="602.3" y="137.94">4</text>
<text x="602.3" y="102.60">5</text>
</g>
<path d="M597.00 414.86h-3.5M597.00 379.52h-3.5M597.00 344.18h-3.5M597.00 308.84h-3.5M597.00 273.50h-3.5M597.00 238.16h-3.5M597.00 202.82h-3.5M597.00 167.48h-3.5M597.00 132.14h-3.5" stroke="#262626" stroke-width="0.9" fill="none"/>
<text x="590.6" y="83" font-size="22" text-anchor="middle" fill="#262626">t</text>
</g>
<g id="panelB" font-family="'Liberation Sans', Arial, sans-serif">
<defs>
<filter id="blur1" x="-20%" y="-20%" width="140%" height="140%"><feGaussianBlur stdDeviation="0.9"/></filter>
<filter id="blur1b" x="-20%" y="-20%" width="140%" height="140%"><feGaussianBlur stdDeviation="1.0"/></filter>
<filter id="blur2" x="-20%" y="-20%" width="140%" height="140%"><feGaussianBlur stdDeviation="1.7"/></filter>
<filter id="blur3" x="-20%" y="-20%" width="140%" height="140%"><feGaussianBlur stdDeviation="2.6"/></filter>
<filter id="blur4" x="-20%" y="-20%" width="140%" height="140%"><feGaussianBlur stdDeviation="3.2"/></filter>
<clipPath id="brainL-clip"><path d="M777.8 158.0C777.8 153.6 778.7 145.1 780.2 138.6C781.7 132.1 783.7 125.3 786.7 119.2C789.6 113.1 793.5 107.6 798.0 102.2C802.4 96.8 807.6 91.6 813.3 86.9C819.1 82.2 826.0 77.6 832.7 73.9C839.5 70.3 847.0 67.2 853.8 65.1C860.5 62.9 868.7 61.3 873.2 61.0C877.6 60.7 876.9 63.2 880.4 63.1C883.9 63.1 889.9 60.5 894.2 60.7C898.5 60.9 902.0 62.4 906.3 64.2C910.6 66.1 916.4 68.8 920.0 71.5C923.7 74.2 926.0 77.6 928.1 80.4C930.2 83.2 930.7 86.4 932.6 88.5C934.6 90.6 937.3 92.1 939.8 93.0C942.2 94.0 945.2 92.2 947.5 94.2C949.8 96.1 951.8 100.2 953.7 104.7C955.5 109.1 957.1 115.4 958.5 120.8C959.9 126.2 961.3 132.1 962.1 137.0C962.8 141.8 963.6 146.2 963.0 149.9C962.4 153.6 960.3 157.5 958.5 159.3C956.7 161.1 955.0 159.2 952.4 160.9C949.7 162.6 946.7 166.0 942.7 169.3C938.6 172.6 933.5 177.0 928.1 180.6C922.7 184.3 916.0 188.5 910.3 191.1C904.7 193.8 898.6 196.2 894.2 196.8C889.7 197.4 886.4 196.3 883.7 194.7C880.9 193.1 878.4 190.4 877.7 187.1C877.0 183.8 880.1 177.4 879.3 175.0C878.5 172.6 876.3 172.8 873.2 172.9C870.0 173.0 864.9 174.4 860.2 175.5C855.5 176.5 848.9 177.0 844.9 179.3C840.8 181.7 839.2 186.7 836.0 189.5C832.7 192.4 829.0 195.8 825.5 196.5C822.0 197.2 818.2 195.4 815.0 193.6C811.7 191.7 808.2 188.2 806.1 185.5C804.0 182.7 804.6 179.2 802.4 177.1C800.1 175.0 796.0 174.8 792.3 172.9C788.6 170.9 782.6 167.8 780.2 165.3C777.8 162.8 777.8 162.5 777.8 158.0Z"/></clipPath>
<g id="brainL">
<path d="M777.8 158.0C777.8 153.6 778.7 145.1 780.2 138.6C781.7 132.1 783.7 125.3 786.7 119.2C789.6 113.1 793.5 107.6 798.0 102.2C802.4 96.8 807.6 91.6 813.3 86.9C819.1 82.2 826.0 77.6 832.7 73.9C839.5 70.3 847.0 67.2 853.8 65.1C860.5 62.9 868.7 61.3 873.2 61.0C877.6 60.7 876.9 63.2 880.4 63.1C883.9 63.1 889.9 60.5 894.2 60.7C898.5 60.9 902.0 62.4 906.3 64.2C910.6 66.1 916.4 68.8 920.0 71.5C923.7 74.2 926.0 77.6 928.1 80.4C930.2 83.2 930.7 86.4 932.6 88.5C934.6 90.6 937.3 92.1 939.8 93.0C942.2 94.0 945.2 92.2 947.5 94.2C949.8 96.1 951.8 100.2 953.7 104.7C955.5 109.1 957.1 115.4 958.5 120.8C959.9 126.2 961.3 132.1 962.1 137.0C962.8 141.8 963.6 146.2 963.0 149.9C962.4 153.6 960.3 157.5 958.5 159.3C956.7 161.1 955.0 159.2 952.4 160.9C949.7 162.6 946.7 166.0 942.7 169.3C938.6 172.6 933.5 177.0 928.1 180.6C922.7 184.3 916.0 188.5 910.3 191.1C904.7 193.8 898.6 196.2 894.2 196.8C889.7 197.4 886.4 196.3 883.7 194.7C880.9 193.1 878.4 190.4 877.7 187.1C877.0 183.8 880.1 177.4 879.3 175.0C878.5 172.6 876.3 172.8 873.2 172.9C870.0 173.0 864.9 174.4 860.2 175.5C855.5 176.5 848.9 177.0 844.9 179.3C840.8 181.7 839.2 186.7 836.0 189.5C832.7 192.4 829.0 195.8 825.5 196.5C822.0 197.2 818.2 195.4 815.0 193.6C811.7 191.7 808.2 188.2 806.1 185.5C804.0 182.7 804.6 179.2 802.4 177.1C800.1 175.0 796.0 174.8 792.3 172.9C788.6 170.9 782.6 167.8 780.2 165.3C777.8 162.8 777.8 162.5 777.8 158.0Z" fill="#e4e4e4"/>
<g clip-path="url(#brainL-clip)">
<g filter="url(#blur4)" fill="#ffffff" opacity="0.95">
<ellipse cx="860.2" cy="88.5" rx="24.2" ry="8.1" transform="rotate(-32 860.2 88.5)"/>
<ellipse cx="847.3" cy="145.1" rx="19.4" ry="19.4" transform="rotate(10 847.3 145.1)"/>
<ellipse cx="900.6" cy="112.7" rx="8.1" ry="17.8" transform="rotate(8 900.6 112.7)"/>
<ellipse cx="801.2" cy="140.2" rx="6.1" ry="24.2" transform="rotate(8 801.2 140.2)"/>
<ellipse cx="815.0" cy="103.0" rx="4.8" ry="17.8" transform="rotate(38 815.0 103.0)"/>
<ellipse cx="921.7" cy="145.1" rx="19.4" ry="4.8" transform="rotate(-38 921.7 145.1)"/>
<ellipse cx="905.5" cy="182.3" rx="17.8" ry="4.8" transform="rotate(-32 905.5 182.3)"/>
<ellipse cx="823.0" cy="187.1" rx="12.9" ry="6.5" transform="rotate(10 823.0 187.1)"/>
<ellipse cx="933.8" cy="109.5" rx="5.7" ry="8.9" transform="rotate(0 933.8 109.5)"/>
<ellipse cx="873.2" cy="137.0" rx="9.7" ry="9.7" transform="rotate(0 873.2 137.0)"/>
<ellipse cx="915.2" cy="85.3" rx="4.0" ry="11.3" transform="rotate(-8 915.2 85.3)"/>
</g>
<g filter="url(#blur4)" fill="#8a8a8a">
<ellipse cx="782.6" cy="143.5" rx="4.8" ry="24.2" opacity="0.60" transform="rotate(12 782.6 143.5)"/>
<ellipse cx="793.9" cy="109.5" rx="4.0" ry="17.8" opacity="0.45" transform="rotate(32 793.9 109.5)"/>
<ellipse cx="836.0" cy="88.5" rx="4.8" ry="24.2" opacity="0.45" transform="rotate(50 836.0 88.5)"/>
<ellipse cx="827.9" cy="140.2" rx="4.8" ry="25.9" opacity="0.30" transform="rotate(5 827.9 140.2)"/>
<ellipse cx="913.6" cy="93.3" rx="19.4" ry="9.7" opacity="0.30" transform="rotate(10 913.6 93.3)"/>
<ellipse cx="921.7" cy="162.9" rx="25.9" ry="6.5" opacity="0.30" transform="rotate(-38 921.7 162.9)"/>
<ellipse cx="852.1" cy="170.9" rx="21.0" ry="3.6" opacity="0.85" transform="rotate(-3 852.1 170.9)"/>
<ellipse cx="933.8" cy="88.5" rx="6.5" ry="6.5" opacity="0.55" transform="rotate(0 933.8 88.5)"/>
<ellipse cx="956.4" cy="130.5" rx="4.8" ry="27.5" opacity="0.50" transform="rotate(-8 956.4 130.5)"/>
<ellipse cx="928.1" cy="133.8" rx="12.9" ry="3.6" opacity="0.55" transform="rotate(-40 928.1 133.8)"/>
<ellipse cx="882.9" cy="185.5" rx="4.0" ry="8.9" opacity="0.40" transform="rotate(10 882.9 185.5)"/>
<ellipse cx="937.8" cy="169.3" rx="9.7" ry="4.0" opacity="0.40" transform="rotate(-40 937.8 169.3)"/>
<ellipse cx="900.6" cy="72.3" rx="2.9" ry="9.7" opacity="0.30" transform="rotate(10 900.6 72.3)"/>
<ellipse cx="811.7" cy="166.1" rx="4.0" ry="11.3" opacity="0.35" transform="rotate(0 811.7 166.1)"/>
</g>
<g filter="url(#blur2)" fill="none" stroke="#808080" stroke-width="4.2" stroke-linecap="round" opacity="0.5">
<path d="M886.7 94.2C887.2 96.8 888.4 105.0 889.5 110.2C890.6 115.3 892.3 120.6 893.4 124.9C894.5 129.1 895.7 133.8 896.1 135.5"/>
<path d="M917.5 72.7C917.9 75.1 919.3 82.7 920.2 87.4C921.1 92.1 922.4 98.5 922.8 100.8"/>
<path d="M922.8 100.8C924.3 99.9 929.3 96.6 932.2 95.4C935.1 94.3 938.9 94.4 940.2 94.2"/>
<path d="M953.7 108.9C954.3 111.5 956.4 119.1 957.5 124.9C958.6 130.7 959.8 140.5 960.3 143.6"/>
<path d="M860.2 130.5C862.4 128.9 869.4 123.0 873.2 120.8C876.9 118.7 881.2 118.1 882.9 117.6"/>
<path d="M837.6 145.1C839.2 142.7 846.2 135.4 847.3 130.5C848.4 125.7 844.6 118.4 844.1 116.0"/>
<path d="M894.2 61.0C895.0 63.4 898.8 71.0 899.0 75.6C899.3 80.1 896.3 86.3 895.8 88.5"/>
<path d="M877.0 88.8C879.2 88.6 888.1 87.6 890.3 87.4"/>
<path d="M803.6 177.4C805.3 178.2 809.3 181.7 813.3 182.3C817.4 182.8 825.5 180.9 827.9 180.6"/>
<path d="M857.0 149.9C858.3 148.8 862.7 145.3 865.1 143.5C867.5 141.6 870.5 139.4 871.5 138.6"/>
</g>
<g filter="url(#blur3)" fill="none" stroke="#7a7a7a" stroke-width="8" stroke-linecap="round" opacity="0.5">
<path d="M880.4 63.0C877.6 63.7 868.7 65.0 863.6 67.3C858.6 69.6 854.6 73.1 850.2 76.7C845.8 80.3 841.0 84.3 836.9 88.8C832.9 93.3 829.2 97.7 826.1 103.5C823.0 109.3 820.1 116.9 818.2 123.6C816.3 130.3 815.2 136.9 814.8 143.6C814.5 150.3 814.9 158.2 816.1 163.7C817.3 169.2 821.2 174.4 822.2 176.6"/>
<path d="M787.5 161.2C787.2 158.3 785.4 150.1 786.0 143.6C786.7 137.1 789.3 128.1 791.4 122.3C793.4 116.5 795.2 113.6 798.2 108.9C801.1 104.2 806.0 97.5 808.8 94.2C811.6 90.8 813.9 89.4 815.0 88.5"/>
<path d="M885.4 142.3C887.4 142.5 893.9 144.1 897.4 143.6C901.0 143.2 903.4 141.6 906.8 139.6C910.1 137.6 914.1 134.5 917.5 131.7C920.8 128.8 923.9 125.2 926.8 122.3C929.7 119.4 932.7 116.4 934.9 114.2C937.1 112.0 939.4 109.8 940.2 108.9"/>
<path d="M885.4 142.3C884.6 144.3 881.7 150.7 880.1 154.3C878.5 157.8 876.1 160.5 876.1 163.7C876.0 166.8 879.0 171.5 879.6 173.0"/>
<path d="M822.2 176.6C824.7 175.7 832.3 172.1 836.9 171.3C841.6 170.5 845.8 171.9 850.2 171.7C854.6 171.6 859.8 170.5 863.6 170.1C867.4 169.7 870.5 168.5 873.2 169.3C875.8 170.1 878.3 174.0 879.3 175.0"/>
<path d="M839.5 111.6C841.3 111.2 846.6 110.4 850.2 108.9C853.8 107.3 857.5 104.9 861.0 102.2C864.6 99.6 869.0 95.1 871.7 92.9C874.4 90.6 876.1 89.5 877.0 88.8"/>
<path d="M904.2 72.3C904.8 76.0 907.0 88.1 908.1 94.2C909.2 100.2 909.9 104.6 910.8 108.9C911.7 113.1 913.1 117.8 913.6 119.5"/>
<path d="M904.2 170.3C905.8 168.5 910.2 162.7 913.6 159.6C916.9 156.5 920.7 154.6 924.2 151.7C927.8 148.8 931.4 145.9 934.9 142.3C938.5 138.7 943.8 132.2 945.6 130.2"/>
<path d="M945.6 94.2C946.3 96.8 948.5 104.2 949.6 110.2C950.7 116.2 951.5 124.2 952.2 130.2C952.9 136.2 953.4 141.5 953.7 146.4C953.9 151.3 953.7 157.4 953.7 159.6"/>
</g>
<g filter="url(#blur1)" fill="none" stroke="#505050" stroke-width="2.0" stroke-linecap="round" opacity="0.7">
<path d="M880.4 63.0C877.6 63.7 868.7 65.0 863.6 67.3C858.6 69.6 854.6 73.1 850.2 76.7C845.8 80.3 841.0 84.3 836.9 88.8C832.9 93.3 829.2 97.7 826.1 103.5C823.0 109.3 820.1 116.9 818.2 123.6C816.3 130.3 815.2 136.9 814.8 143.6C814.5 150.3 814.9 158.2 816.1 163.7C817.3 169.2 821.2 174.4 822.2 176.6"/>
<path d="M787.5 161.2C787.2 158.3 785.4 150.1 786.0 143.6C786.7 137.1 789.3 128.1 791.4 122.3C793.4 116.5 795.2 113.6 798.2 108.9C801.1 104.2 806.0 97.5 808.8 94.2C811.6 90.8 813.9 89.4 815.0 88.5"/>
<path d="M885.4 142.3C887.4 142.5 893.9 144.1 897.4 143.6C901.0 143.2 903.4 141.6 906.8 139.6C910.1 137.6 914.1 134.5 917.5 131.7C920.8 128.8 923.9 125.2 926.8 122.3C929.7 119.4 932.7 116.4 934.9 114.2C937.1 112.0 939.4 109.8 940.2 108.9"/>
<path d="M885.4 142.3C884.6 144.3 881.7 150.7 880.1 154.3C878.5 157.8 876.1 160.5 876.1 163.7C876.0 166.8 879.0 171.5 879.6 173.0"/>
<path d="M822.2 176.6C824.7 175.7 832.3 172.1 836.9 171.3C841.6 170.5 845.8 171.9 850.2 171.7C854.6 171.6 859.8 170.5 863.6 170.1C867.4 169.7 870.5 168.5 873.2 169.3C875.8 170.1 878.3 174.0 879.3 175.0"/>
<path d="M839.5 111.6C841.3 111.2 846.6 110.4 850.2 108.9C853.8 107.3 857.5 104.9 861.0 102.2C864.6 99.6 869.0 95.1 871.7 92.9C874.4 90.6 876.1 89.5 877.0 88.8"/>
<path d="M904.2 72.3C904.8 76.0 907.0 88.1 908.1 94.2C909.2 100.2 909.9 104.6 910.8 108.9C911.7 113.1 913.1 117.8 913.6 119.5"/>
<path d="M904.2 170.3C905.8 168.5 910.2 162.7 913.6 159.6C916.9 156.5 920.7 154.6 924.2 151.7C927.8 148.8 931.4 145.9 934.9 142.3C938.5 138.7 943.8 132.2 945.6 130.2"/>
<path d="M945.6 94.2C946.3 96.8 948.5 104.2 949.6 110.2C950.7 116.2 951.5 124.2 952.2 130.2C952.9 136.2 953.4 141.5 953.7 146.4C953.9 151.3 953.7 157.4 953.7 159.6"/>
</g>
<path d="M777.8 158.0C777.8 153.6 778.7 145.1 780.2 138.6C781.7 132.1 783.7 125.3 786.7 119.2C789.6 113.1 793.5 107.6 798.0 102.2C802.4 96.8 807.6 91.6 813.3 86.9C819.1 82.2 826.0 77.6 832.7 73.9C839.5 70.3 847.0 67.2 853.8 65.1C860.5 62.9 868.7 61.3 873.2 61.0C877.6 60.7 876.9 63.2 880.4 63.1C883.9 63.1 889.9 60.5 894.2 60.7C898.5 60.9 902.0 62.4 906.3 64.2C910.6 66.1 916.4 68.8 920.0 71.5C923.7 74.2 926.0 77.6 928.1 80.4C930.2 83.2 930.7 86.4 932.6 88.5C934.6 90.6 937.3 92.1 939.8 93.0C942.2 94.0 945.2 92.2 947.5 94.2C949.8 96.1 951.8 100.2 953.7 104.7C955.5 109.1 957.1 115.4 958.5 120.8C959.9 126.2 961.3 132.1 962.1 137.0C962.8 141.8 963.6 146.2 963.0 149.9C962.4 153.6 960.3 157.5 958.5 159.3C956.7 161.1 955.0 159.2 952.4 160.9C949.7 162.6 946.7 166.0 942.7 169.3C938.6 172.6 933.5 177.0 928.1 180.6C922.7 184.3 916.0 188.5 910.3 191.1C904.7 193.8 898.6 196.2 894.2 196.8C889.7 197.4 886.4 196.3 883.7 194.7C880.9 193.1 878.4 190.4 877.7 187.1C877.0 183.8 880.1 177.4 879.3 175.0C878.5 172.6 876.3 172.8 873.2 172.9C870.0 173.0 864.9 174.4 860.2 175.5C855.5 176.5 848.9 177.0 844.9 179.3C840.8 181.7 839.2 186.7 836.0 189.5C832.7 192.4 829.0 195.8 825.5 196.5C822.0 197.2 818.2 195.4 815.0 193.6C811.7 191.7 808.2 188.2 806.1 185.5C804.0 182.7 804.6 179.2 802.4 177.1C800.1 175.0 796.0 174.8 792.3 172.9C788.6 170.9 782.6 167.8 780.2 165.3C777.8 162.8 777.8 162.5 777.8 158.0Z" fill="none" stroke="#7a7a7a" stroke-width="6" filter="url(#blur2)" opacity="0.42"/>
<path d="M777.8 158.0C777.8 153.6 778.7 145.1 780.2 138.6C781.7 132.1 783.7 125.3 786.7 119.2C789.6 113.1 793.5 107.6 798.0 102.2C802.4 96.8 807.6 91.6 813.3 86.9C819.1 82.2 826.0 77.6 832.7 73.9C839.5 70.3 847.0 67.2 853.8 65.1C860.5 62.9 868.7 61.3 873.2 61.0C877.6 60.7 876.9 63.2 880.4 63.1C883.9 63.1 889.9 60.5 894.2 60.7C898.5 60.9 902.0 62.4 906.3 64.2C910.6 66.1 916.4 68.8 920.0 71.5C923.7 74.2 926.0 77.6 928.1 80.4C930.2 83.2 930.7 86.4 932.6 88.5C934.6 90.6 937.3 92.1 939.8 93.0C942.2 94.0 945.2 92.2 947.5 94.2C949.8 96.1 951.8 100.2 953.7 104.7C955.5 109.1 957.1 115.4 958.5 120.8C959.9 126.2 961.3 132.1 962.1 137.0C962.8 141.8 963.6 146.2 963.0 149.9C962.4 153.6 960.3 157.5 958.5 159.3C956.7 161.1 955.0 159.2 952.4 160.9C949.7 162.6 946.7 166.0 942.7 169.3C938.6 172.6 933.5 177.0 928.1 180.6C922.7 184.3 916.0 188.5 910.3 191.1C904.7 193.8 898.6 196.2 894.2 196.8C889.7 197.4 886.4 196.3 883.7 194.7C880.9 193.1 878.4 190.4 877.7 187.1C877.0 183.8 880.1 177.4 879.3 175.0C878.5 172.6 876.3 172.8 873.2 172.9C870.0 173.0 864.9 174.4 860.2 175.5C855.5 176.5 848.9 177.0 844.9 179.3C840.8 181.7 839.2 186.7 836.0 189.5C832.7 192.4 829.0 195.8 825.5 196.5C822.0 197.2 818.2 195.4 815.0 193.6C811.7 191.7 808.2 188.2 806.1 185.5C804.0 182.7 804.6 179.2 802.4 177.1C800.1 175.0 796.0 174.8 792.3 172.9C788.6 170.9 782.6 167.8 780.2 165.3C777.8 162.8 777.8 162.5 777.8 158.0Z" fill="none" stroke="#6c6c6c" stroke-width="3" filter="url(#blur1)" opacity="0.8"/>
</g>
<path d="M777.8 158.0C777.8 153.6 778.7 145.1 780.2 138.6C781.7 132.1 783.7 125.3 786.7 119.2C789.6 113.1 793.5 107.6 798.0 102.2C802.4 96.8 807.6 91.6 813.3 86.9C819.1 82.2 826.0 77.6 832.7 73.9C839.5 70.3 847.0 67.2 853.8 65.1C860.5 62.9 868.7 61.3 873.2 61.0C877.6 60.7 876.9 63.2 880.4 63.1C883.9 63.1 889.9 60.5 894.2 60.7C898.5 60.9 902.0 62.4 906.3 64.2C910.6 66.1 916.4 68.8 920.0 71.5C923.7 74.2 926.0 77.6 928.1 80.4C930.2 83.2 930.7 86.4 932.6 88.5C934.6 90.6 937.3 92.1 939.8 93.0C942.2 94.0 945.2 92.2 947.5 94.2C949.8 96.1 951.8 100.2 953.7 104.7C955.5 109.1 957.1 115.4 958.5 120.8C959.9 126.2 961.3 132.1 962.1 137.0C962.8 141.8 963.6 146.2 963.0 149.9C962.4 153.6 960.3 157.5 958.5 159.3C956.7 161.1 955.0 159.2 952.4 160.9C949.7 162.6 946.7 166.0 942.7 169.3C938.6 172.6 933.5 177.0 928.1 180.6C922.7 184.3 916.0 188.5 910.3 191.1C904.7 193.8 898.6 196.2 894.2 196.8C889.7 197.4 886.4 196.3 883.7 194.7C880.9 193.1 878.4 190.4 877.7 187.1C877.0 183.8 880.1 177.4 879.3 175.0C878.5 172.6 876.3 172.8 873.2 172.9C870.0 173.0 864.9 174.4 860.2 175.5C855.5 176.5 848.9 177.0 844.9 179.3C840.8 181.7 839.2 186.7 836.0 189.5C832.7 192.4 829.0 195.8 825.5 196.5C822.0 197.2 818.2 195.4 815.0 193.6C811.7 191.7 808.2 188.2 806.1 185.5C804.0 182.7 804.6 179.2 802.4 177.1C800.1 175.0 796.0 174.8 792.3 172.9C788.6 170.9 782.6 167.8 780.2 165.3C777.8 162.8 777.8 162.5 777.8 158.0Z" fill="none" stroke="#8a8a8a" stroke-width="0.6"/>
</g>
<clipPath id="brainR-clip"><path d="M1071.0 147.0C1070.6 143.9 1070.9 142.2 1072.2 138.4C1073.4 134.6 1076.0 129.3 1078.7 124.0C1081.3 118.8 1084.6 112.3 1088.2 106.9C1091.8 101.4 1095.3 96.7 1100.0 91.6C1104.8 86.5 1110.9 80.7 1116.9 76.3C1122.8 71.9 1130.2 67.9 1136.0 65.2C1141.7 62.5 1145.8 60.8 1151.2 60.1C1156.7 59.3 1162.4 59.8 1168.4 60.6C1174.5 61.4 1180.9 63.0 1187.5 64.8C1194.2 66.6 1201.5 68.8 1208.5 71.5C1215.6 74.2 1222.9 77.2 1229.6 81.1C1236.2 84.9 1242.6 89.5 1248.7 94.4C1254.7 99.4 1261.1 105.1 1265.9 110.7C1270.6 116.2 1274.4 122.5 1277.3 127.9C1280.2 133.3 1282.2 138.4 1283.2 143.2C1284.3 147.9 1284.5 152.1 1283.6 156.5C1282.7 161.0 1281.0 166.5 1277.7 169.9C1274.4 173.3 1268.8 175.1 1263.9 176.8C1259.1 178.4 1253.7 179.0 1248.7 179.6C1243.6 180.3 1236.9 179.2 1233.8 180.8C1230.6 182.4 1232.5 186.5 1229.9 189.4C1227.4 192.2 1222.0 196.2 1218.5 197.8C1215.0 199.3 1212.1 199.7 1208.9 198.7C1205.7 197.8 1202.2 192.1 1199.4 191.9C1196.5 191.6 1194.9 195.7 1191.7 197.0C1188.6 198.3 1184.1 199.9 1180.3 199.7C1176.5 199.5 1173.3 198.2 1168.8 195.9C1164.3 193.5 1158.9 189.5 1153.2 185.6C1147.4 181.6 1140.1 175.7 1134.0 172.2C1128.0 168.7 1122.6 166.2 1116.9 164.5C1111.1 162.9 1105.1 163.0 1099.7 162.4C1094.3 161.9 1088.5 162.4 1084.4 161.5C1080.2 160.5 1077.1 159.1 1074.8 156.7C1072.6 154.3 1071.5 150.0 1071.0 147.0Z"/></clipPath>
<g id="brainR">
<path d="M1071.0 147.0C1070.6 143.9 1070.9 142.2 1072.2 138.4C1073.4 134.6 1076.0 129.3 1078.7 124.0C1081.3 118.8 1084.6 112.3 1088.2 106.9C1091.8 101.4 1095.3 96.7 1100.0 91.6C1104.8 86.5 1110.9 80.7 1116.9 76.3C1122.8 71.9 1130.2 67.9 1136.0 65.2C1141.7 62.5 1145.8 60.8 1151.2 60.1C1156.7 59.3 1162.4 59.8 1168.4 60.6C1174.5 61.4 1180.9 63.0 1187.5 64.8C1194.2 66.6 1201.5 68.8 1208.5 71.5C1215.6 74.2 1222.9 77.2 1229.6 81.1C1236.2 84.9 1242.6 89.5 1248.7 94.4C1254.7 99.4 1261.1 105.1 1265.9 110.7C1270.6 116.2 1274.4 122.5 1277.3 127.9C1280.2 133.3 1282.2 138.4 1283.2 143.2C1284.3 147.9 1284.5 152.1 1283.6 156.5C1282.7 161.0 1281.0 166.5 1277.7 169.9C1274.4 173.3 1268.8 175.1 1263.9 176.8C1259.1 178.4 1253.7 179.0 1248.7 179.6C1243.6 180.3 1236.9 179.2 1233.8 180.8C1230.6 182.4 1232.5 186.5 1229.9 189.4C1227.4 192.2 1222.0 196.2 1218.5 197.8C1215.0 199.3 1212.1 199.7 1208.9 198.7C1205.7 197.8 1202.2 192.1 1199.4 191.9C1196.5 191.6 1194.9 195.7 1191.7 197.0C1188.6 198.3 1184.1 199.9 1180.3 199.7C1176.5 199.5 1173.3 198.2 1168.8 195.9C1164.3 193.5 1158.9 189.5 1153.2 185.6C1147.4 181.6 1140.1 175.7 1134.0 172.2C1128.0 168.7 1122.6 166.2 1116.9 164.5C1111.1 162.9 1105.1 163.0 1099.7 162.4C1094.3 161.9 1088.5 162.4 1084.4 161.5C1080.2 160.5 1077.1 159.1 1074.8 156.7C1072.6 154.3 1071.5 150.0 1071.0 147.0Z" fill="#efefef"/>
<g clip-path="url(#brainR-clip)">
<g filter="url(#blur4)" fill="#ffffff" opacity="0.95">
<ellipse cx="1113.0" cy="141.2" rx="22.9" ry="13.4" transform="rotate(-5 1113.0 141.2)"/>
<ellipse cx="1157.0" cy="114.5" rx="17.2" ry="15.3" transform="rotate(20 1157.0 114.5)"/>
<ellipse cx="1202.8" cy="154.6" rx="24.8" ry="5.0" transform="rotate(28 1202.8 154.6)"/>
<ellipse cx="1241.0" cy="120.2" rx="7.6" ry="15.3" transform="rotate(-25 1241.0 120.2)"/>
<ellipse cx="1260.1" cy="143.2" rx="8.6" ry="15.3" transform="rotate(-25 1260.1 143.2)"/>
<ellipse cx="1183.7" cy="168.0" rx="21.0" ry="4.6" transform="rotate(32 1183.7 168.0)"/>
<ellipse cx="1130.2" cy="87.8" rx="21.0" ry="5.7" transform="rotate(-38 1130.2 87.8)"/>
<ellipse cx="1210.5" cy="103.0" rx="5.3" ry="13.4" transform="rotate(-28 1210.5 103.0)"/>
<ellipse cx="1221.9" cy="187.1" rx="8.6" ry="6.7" transform="rotate(0 1221.9 187.1)"/>
<ellipse cx="1164.6" cy="80.1" rx="13.4" ry="9.6" transform="rotate(0 1164.6 80.1)"/>
<ellipse cx="1080.6" cy="139.3" rx="5.7" ry="17.2" transform="rotate(18 1080.6 139.3)"/>
<ellipse cx="1096.8" cy="104.0" rx="4.8" ry="15.3" transform="rotate(40 1096.8 104.0)"/>
<ellipse cx="1114.0" cy="84.9" rx="4.2" ry="13.4" transform="rotate(50 1114.0 84.9)"/>
<ellipse cx="1134.0" cy="70.6" rx="3.8" ry="13.4" transform="rotate(62 1134.0 70.6)"/>
</g>
<g filter="url(#blur4)" fill="#8a8a8a">
<ellipse cx="1181.8" cy="116.4" rx="5.7" ry="14.3" opacity="0.60" transform="rotate(0 1181.8 116.4)"/>
<ellipse cx="1256.3" cy="174.7" rx="21.0" ry="3.8" opacity="0.75" transform="rotate(-8 1256.3 174.7)"/>
<ellipse cx="1277.3" cy="147.0" rx="4.8" ry="19.1" opacity="0.45" transform="rotate(-10 1277.3 147.0)"/>
<ellipse cx="1248.7" cy="103.0" rx="22.9" ry="7.6" opacity="0.50" transform="rotate(38 1248.7 103.0)"/>
<ellipse cx="1221.9" cy="78.2" rx="22.9" ry="4.8" opacity="0.35" transform="rotate(25 1221.9 78.2)"/>
<ellipse cx="1265.9" cy="139.3" rx="7.6" ry="17.2" opacity="0.35" transform="rotate(-20 1265.9 139.3)"/>
<ellipse cx="1231.5" cy="129.8" rx="4.2" ry="17.2" opacity="0.45" transform="rotate(-10 1231.5 129.8)"/>
<ellipse cx="1248.7" cy="152.7" rx="10.5" ry="3.8" opacity="0.45" transform="rotate(35 1248.7 152.7)"/>
<ellipse cx="1214.3" cy="190.9" rx="11.5" ry="4.2" opacity="0.40" transform="rotate(-20 1214.3 190.9)"/>
<ellipse cx="1195.2" cy="83.9" rx="3.4" ry="11.5" opacity="0.35" transform="rotate(-35 1195.2 83.9)"/>
<ellipse cx="1172.3" cy="185.2" rx="21.0" ry="2.7" opacity="0.40" transform="rotate(33 1172.3 185.2)"/>
<ellipse cx="1263.9" cy="120.2" rx="4.8" ry="11.5" opacity="0.35" transform="rotate(-40 1263.9 120.2)"/>
<ellipse cx="1107.3" cy="126.0" rx="5.7" ry="2.7" opacity="0.45" transform="rotate(20 1107.3 126.0)"/>
</g>
<g filter="url(#blur2)" fill="none" stroke="#808080" stroke-width="4.2" stroke-linecap="round" opacity="0.5">
<path d="M1102.5 122.1C1104.1 122.6 1110.2 124.4 1111.7 124.8"/>
<path d="M1105.0 143.5C1107.2 142.9 1114.6 141.3 1118.4 139.5C1122.2 137.7 1126.2 134.0 1127.7 132.8"/>
<path d="M1145.1 116.8C1147.4 119.0 1154.0 125.7 1158.5 130.2C1163.0 134.6 1167.4 140.0 1171.9 143.5C1176.3 147.1 1183.0 150.2 1185.2 151.6"/>
<path d="M1147.8 159.6C1150.9 161.4 1160.3 167.4 1166.5 170.3C1172.8 173.2 1182.1 175.8 1185.2 177.0"/>
<path d="M1216.2 87.8C1217.4 87.7 1220.0 86.3 1223.4 87.4C1226.9 88.4 1232.4 90.9 1236.8 94.1C1241.3 97.2 1246.2 102.8 1250.2 106.1C1254.2 109.4 1257.8 112.3 1260.9 114.1C1264.0 115.9 1267.6 116.3 1268.9 116.8"/>
<path d="M1208.5 72.5C1210.1 74.4 1215.7 81.4 1218.1 83.9C1220.5 86.5 1222.1 87.1 1222.9 87.8"/>
<path d="M1130.2 162.3C1133.4 163.8 1143.6 168.3 1149.3 171.8C1155.1 175.3 1162.1 181.4 1164.6 183.3"/>
<path d="M1100.0 91.6C1101.3 92.2 1105.1 96.0 1107.3 95.4C1109.5 94.8 1112.1 89.0 1113.0 87.8"/>
<path d="M1088.2 106.9C1089.3 107.5 1092.9 111.0 1094.9 110.7C1096.9 110.4 1099.2 105.9 1100.0 104.9"/>
<path d="M1116.9 76.3C1118.0 77.1 1121.3 81.2 1123.5 81.1C1125.8 80.9 1129.1 76.3 1130.2 75.3"/>
<path d="M1187.5 64.8C1188.8 67.1 1193.0 74.7 1195.2 78.2C1197.4 81.7 1199.8 84.7 1200.7 86.0"/>
<path d="M1229.6 81.1C1231.2 82.8 1235.7 87.4 1239.1 91.6C1242.6 95.7 1248.3 103.7 1250.2 106.1"/>
<path d="M1164.6 112.6C1165.9 114.5 1169.4 121.2 1172.3 124.0C1175.1 126.9 1180.2 128.8 1181.8 129.8"/>
</g>
<g filter="url(#blur3)" fill="none" stroke="#7a7a7a" stroke-width="8" stroke-linecap="round" opacity="0.5">
<path d="M1087.2 160.0C1086.9 157.2 1084.6 148.5 1085.0 143.5C1085.3 138.6 1086.7 136.0 1089.2 130.2C1091.6 124.4 1096.3 113.9 1099.7 108.8C1103.0 103.6 1106.1 102.5 1109.2 99.4C1112.3 96.3 1116.4 92.5 1118.4 90.0C1120.4 87.6 1118.8 86.9 1121.1 84.7C1123.3 82.5 1127.7 78.9 1131.8 76.7C1135.8 74.4 1140.2 73.6 1145.1 71.3C1150.0 69.1 1156.7 64.9 1161.2 63.3C1165.6 61.7 1170.1 62.2 1171.9 62.0"/>
<path d="M1111.7 124.8C1112.8 123.5 1116.2 119.9 1118.4 116.8C1120.6 113.7 1122.1 109.4 1125.1 106.1C1128.0 102.8 1132.6 98.8 1136.0 96.7C1139.3 94.6 1141.4 93.8 1145.1 93.5C1148.9 93.2 1154.0 94.5 1158.5 94.8C1163.0 95.1 1167.4 95.1 1171.9 95.4C1176.3 95.7 1183.0 96.5 1185.2 96.7"/>
<path d="M1186.6 95.4C1185.8 97.0 1183.0 101.4 1181.8 104.9C1180.6 108.4 1179.5 112.9 1179.5 116.4C1179.5 119.9 1180.5 123.6 1181.8 126.0C1183.1 128.3 1186.6 129.9 1187.5 130.7"/>
<path d="M1187.5 130.7C1189.1 131.5 1192.9 133.6 1196.7 135.5C1200.5 137.4 1205.6 140.4 1210.1 142.2C1214.5 144.0 1219.7 145.3 1223.4 146.2C1227.2 147.1 1229.7 148.0 1232.8 147.5C1235.9 147.1 1240.6 144.2 1242.2 143.5"/>
<path d="M1172.3 64.8C1174.2 66.4 1179.0 70.9 1183.7 74.4C1188.5 77.9 1197.2 82.3 1200.7 86.0C1204.2 89.8 1202.5 92.7 1204.7 96.7C1207.0 100.7 1211.5 105.7 1214.1 110.1C1216.6 114.5 1219.0 120.9 1220.0 123.1"/>
<path d="M1214.1 88.7C1215.6 89.6 1221.4 91.2 1223.4 94.1C1225.5 97.0 1225.0 101.9 1226.1 106.1C1227.2 110.3 1229.0 114.6 1230.1 119.5C1231.2 124.4 1232.1 131.5 1232.8 135.5C1233.5 139.5 1233.9 142.2 1234.1 143.5"/>
<path d="M1157.0 131.7C1159.1 133.4 1165.6 138.7 1170.0 142.2C1174.4 145.7 1178.9 149.8 1183.3 152.9C1187.8 156.0 1192.2 158.0 1196.7 160.9C1201.2 163.8 1205.6 166.7 1210.1 170.3C1214.5 173.8 1220.2 179.0 1223.4 182.3C1226.7 185.6 1228.5 188.7 1229.6 190.0"/>
<path d="M1145.5 150.8C1148.4 153.0 1156.7 159.9 1162.7 164.2C1168.8 168.5 1176.1 173.3 1181.8 176.6C1187.5 179.8 1193.1 180.7 1196.7 183.6C1200.3 186.6 1202.3 192.6 1203.4 194.3"/>
<path d="M1242.2 143.5C1243.5 144.9 1247.7 149.2 1250.2 151.6C1252.7 153.9 1256.1 156.5 1257.3 157.5"/>
<path d="M1260.9 114.1C1261.3 115.9 1261.3 121.2 1263.6 124.8C1265.8 128.4 1271.8 131.3 1274.3 135.5C1276.7 139.7 1277.4 146.0 1278.3 150.2C1279.2 154.5 1279.4 159.1 1279.6 160.9"/>
<path d="M1232.8 176.0C1234.4 175.6 1239.3 174.2 1242.2 173.3C1245.1 172.4 1246.6 171.3 1250.2 170.7C1253.8 170.0 1259.1 169.8 1263.6 169.3C1268.0 168.8 1274.7 167.9 1276.9 167.6"/>
</g>
<g filter="url(#blur1)" fill="none" stroke="#505050" stroke-width="2.0" stroke-linecap="round" opacity="0.7">
<path d="M1087.2 160.0C1086.9 157.2 1084.6 148.5 1085.0 143.5C1085.3 138.6 1086.7 136.0 1089.2 130.2C1091.6 124.4 1096.3 113.9 1099.7 108.8C1103.0 103.6 1106.1 102.5 1109.2 99.4C1112.3 96.3 1116.4 92.5 1118.4 90.0C1120.4 87.6 1118.8 86.9 1121.1 84.7C1123.3 82.5 1127.7 78.9 1131.8 76.7C1135.8 74.4 1140.2 73.6 1145.1 71.3C1150.0 69.1 1156.7 64.9 1161.2 63.3C1165.6 61.7 1170.1 62.2 1171.9 62.0"/>
<path d="M1111.7 124.8C1112.8 123.5 1116.2 119.9 1118.4 116.8C1120.6 113.7 1122.1 109.4 1125.1 106.1C1128.0 102.8 1132.6 98.8 1136.0 96.7C1139.3 94.6 1141.4 93.8 1145.1 93.5C1148.9 93.2 1154.0 94.5 1158.5 94.8C1163.0 95.1 1167.4 95.1 1171.9 95.4C1176.3 95.7 1183.0 96.5 1185.2 96.7"/>
<path d="M1186.6 95.4C1185.8 97.0 1183.0 101.4 1181.8 104.9C1180.6 108.4 1179.5 112.9 1179.5 116.4C1179.5 119.9 1180.5 123.6 1181.8 126.0C1183.1 128.3 1186.6 129.9 1187.5 130.7"/>
<path d="M1187.5 130.7C1189.1 131.5 1192.9 133.6 1196.7 135.5C1200.5 137.4 1205.6 140.4 1210.1 142.2C1214.5 144.0 1219.7 145.3 1223.4 146.2C1227.2 147.1 1229.7 148.0 1232.8 147.5C1235.9 147.1 1240.6 144.2 1242.2 143.5"/>
<path d="M1172.3 64.8C1174.2 66.4 1179.0 70.9 1183.7 74.4C1188.5 77.9 1197.2 82.3 1200.7 86.0C1204.2 89.8 1202.5 92.7 1204.7 96.7C1207.0 100.7 1211.5 105.7 1214.1 110.1C1216.6 114.5 1219.0 120.9 1220.0 123.1"/>
<path d="M1214.1 88.7C1215.6 89.6 1221.4 91.2 1223.4 94.1C1225.5 97.0 1225.0 101.9 1226.1 106.1C1227.2 110.3 1229.0 114.6 1230.1 119.5C1231.2 124.4 1232.1 131.5 1232.8 135.5C1233.5 139.5 1233.9 142.2 1234.1 143.5"/>
<path d="M1157.0 131.7C1159.1 133.4 1165.6 138.7 1170.0 142.2C1174.4 145.7 1178.9 149.8 1183.3 152.9C1187.8 156.0 1192.2 158.0 1196.7 160.9C1201.2 163.8 1205.6 166.7 1210.1 170.3C1214.5 173.8 1220.2 179.0 1223.4 182.3C1226.7 185.6 1228.5 188.7 1229.6 190.0"/>
<path d="M1145.5 150.8C1148.4 153.0 1156.7 159.9 1162.7 164.2C1168.8 168.5 1176.1 173.3 1181.8 176.6C1187.5 179.8 1193.1 180.7 1196.7 183.6C1200.3 186.6 1202.3 192.6 1203.4 194.3"/>
<path d="M1242.2 143.5C1243.5 144.9 1247.7 149.2 1250.2 151.6C1252.7 153.9 1256.1 156.5 1257.3 157.5"/>
<path d="M1260.9 114.1C1261.3 115.9 1261.3 121.2 1263.6 124.8C1265.8 128.4 1271.8 131.3 1274.3 135.5C1276.7 139.7 1277.4 146.0 1278.3 150.2C1279.2 154.5 1279.4 159.1 1279.6 160.9"/>
<path d="M1232.8 176.0C1234.4 175.6 1239.3 174.2 1242.2 173.3C1245.1 172.4 1246.6 171.3 1250.2 170.7C1253.8 170.0 1259.1 169.8 1263.6 169.3C1268.0 168.8 1274.7 167.9 1276.9 167.6"/>
</g>
<path d="M1071.0 147.0C1070.6 143.9 1070.9 142.2 1072.2 138.4C1073.4 134.6 1076.0 129.3 1078.7 124.0C1081.3 118.8 1084.6 112.3 1088.2 106.9C1091.8 101.4 1095.3 96.7 1100.0 91.6C1104.8 86.5 1110.9 80.7 1116.9 76.3C1122.8 71.9 1130.2 67.9 1136.0 65.2C1141.7 62.5 1145.8 60.8 1151.2 60.1C1156.7 59.3 1162.4 59.8 1168.4 60.6C1174.5 61.4 1180.9 63.0 1187.5 64.8C1194.2 66.6 1201.5 68.8 1208.5 71.5C1215.6 74.2 1222.9 77.2 1229.6 81.1C1236.2 84.9 1242.6 89.5 1248.7 94.4C1254.7 99.4 1261.1 105.1 1265.9 110.7C1270.6 116.2 1274.4 122.5 1277.3 127.9C1280.2 133.3 1282.2 138.4 1283.2 143.2C1284.3 147.9 1284.5 152.1 1283.6 156.5C1282.7 161.0 1281.0 166.5 1277.7 169.9C1274.4 173.3 1268.8 175.1 1263.9 176.8C1259.1 178.4 1253.7 179.0 1248.7 179.6C1243.6 180.3 1236.9 179.2 1233.8 180.8C1230.6 182.4 1232.5 186.5 1229.9 189.4C1227.4 192.2 1222.0 196.2 1218.5 197.8C1215.0 199.3 1212.1 199.7 1208.9 198.7C1205.7 197.8 1202.2 192.1 1199.4 191.9C1196.5 191.6 1194.9 195.7 1191.7 197.0C1188.6 198.3 1184.1 199.9 1180.3 199.7C1176.5 199.5 1173.3 198.2 1168.8 195.9C1164.3 193.5 1158.9 189.5 1153.2 185.6C1147.4 181.6 1140.1 175.7 1134.0 172.2C1128.0 168.7 1122.6 166.2 1116.9 164.5C1111.1 162.9 1105.1 163.0 1099.7 162.4C1094.3 161.9 1088.5 162.4 1084.4 161.5C1080.2 160.5 1077.1 159.1 1074.8 156.7C1072.6 154.3 1071.5 150.0 1071.0 147.0Z" fill="none" stroke="#7a7a7a" stroke-width="6" filter="url(#blur2)" opacity="0.42"/>
<path d="M1071.0 147.0C1070.6 143.9 1070.9 142.2 1072.2 138.4C1073.4 134.6 1076.0 129.3 1078.7 124.0C1081.3 118.8 1084.6 112.3 1088.2 106.9C1091.8 101.4 1095.3 96.7 1100.0 91.6C1104.8 86.5 1110.9 80.7 1116.9 76.3C1122.8 71.9 1130.2 67.9 1136.0 65.2C1141.7 62.5 1145.8 60.8 1151.2 60.1C1156.7 59.3 1162.4 59.8 1168.4 60.6C1174.5 61.4 1180.9 63.0 1187.5 64.8C1194.2 66.6 1201.5 68.8 1208.5 71.5C1215.6 74.2 1222.9 77.2 1229.6 81.1C1236.2 84.9 1242.6 89.5 1248.7 94.4C1254.7 99.4 1261.1 105.1 1265.9 110.7C1270.6 116.2 1274.4 122.5 1277.3 127.9C1280.2 133.3 1282.2 138.4 1283.2 143.2C1284.3 147.9 1284.5 152.1 1283.6 156.5C1282.7 161.0 1281.0 166.5 1277.7 169.9C1274.4 173.3 1268.8 175.1 1263.9 176.8C1259.1 178.4 1253.7 179.0 1248.7 179.6C1243.6 180.3 1236.9 179.2 1233.8 180.8C1230.6 182.4 1232.5 186.5 1229.9 189.4C1227.4 192.2 1222.0 196.2 1218.5 197.8C1215.0 199.3 1212.1 199.7 1208.9 198.7C1205.7 197.8 1202.2 192.1 1199.4 191.9C1196.5 191.6 1194.9 195.7 1191.7 197.0C1188.6 198.3 1184.1 199.9 1180.3 199.7C1176.5 199.5 1173.3 198.2 1168.8 195.9C1164.3 193.5 1158.9 189.5 1153.2 185.6C1147.4 181.6 1140.1 175.7 1134.0 172.2C1128.0 168.7 1122.6 166.2 1116.9 164.5C1111.1 162.9 1105.1 163.0 1099.7 162.4C1094.3 161.9 1088.5 162.4 1084.4 161.5C1080.2 160.5 1077.1 159.1 1074.8 156.7C1072.6 154.3 1071.5 150.0 1071.0 147.0Z" fill="none" stroke="#6c6c6c" stroke-width="3" filter="url(#blur1)" opacity="0.8"/>
</g>
<path d="M1071.0 147.0C1070.6 143.9 1070.9 142.2 1072.2 138.4C1073.4 134.6 1076.0 129.3 1078.7 124.0C1081.3 118.8 1084.6 112.3 1088.2 106.9C1091.8 101.4 1095.3 96.7 1100.0 91.6C1104.8 86.5 1110.9 80.7 1116.9 76.3C1122.8 71.9 1130.2 67.9 1136.0 65.2C1141.7 62.5 1145.8 60.8 1151.2 60.1C1156.7 59.3 1162.4 59.8 1168.4 60.6C1174.5 61.4 1180.9 63.0 1187.5 64.8C1194.2 66.6 1201.5 68.8 1208.5 71.5C1215.6 74.2 1222.9 77.2 1229.6 81.1C1236.2 84.9 1242.6 89.5 1248.7 94.4C1254.7 99.4 1261.1 105.1 1265.9 110.7C1270.6 116.2 1274.4 122.5 1277.3 127.9C1280.2 133.3 1282.2 138.4 1283.2 143.2C1284.3 147.9 1284.5 152.1 1283.6 156.5C1282.7 161.0 1281.0 166.5 1277.7 169.9C1274.4 173.3 1268.8 175.1 1263.9 176.8C1259.1 178.4 1253.7 179.0 1248.7 179.6C1243.6 180.3 1236.9 179.2 1233.8 180.8C1230.6 182.4 1232.5 186.5 1229.9 189.4C1227.4 192.2 1222.0 196.2 1218.5 197.8C1215.0 199.3 1212.1 199.7 1208.9 198.7C1205.7 197.8 1202.2 192.1 1199.4 191.9C1196.5 191.6 1194.9 195.7 1191.7 197.0C1188.6 198.3 1184.1 199.9 1180.3 199.7C1176.5 199.5 1173.3 198.2 1168.8 195.9C1164.3 193.5 1158.9 189.5 1153.2 185.6C1147.4 181.6 1140.1 175.7 1134.0 172.2C1128.0 168.7 1122.6 166.2 1116.9 164.5C1111.1 162.9 1105.1 163.0 1099.7 162.4C1094.3 161.9 1088.5 162.4 1084.4 161.5C1080.2 160.5 1077.1 159.1 1074.8 156.7C1072.6 154.3 1071.5 150.0 1071.0 147.0Z" fill="none" stroke="#8a8a8a" stroke-width="0.6"/>
</g>
</defs>
<text x="707.5" y="51.8" font-size="47" font-weight="bold" fill="#000">B</text>
<use href="#brainL"/>
<use href="#brainL" transform="translate(0 242.8)"/>
<use href="#brainR"/>
<use href="#brainR" transform="translate(0 240)"/>
<text x="975.3" y="130" font-size="26" font-weight="bold" fill="#000">Leader</text>
<text x="963.7" y="379" font-size="26" font-weight="bold" fill="#000">Follower</text>
<circle cx="1196.1" cy="105.8" r="10.3" fill="none" stroke="#0a0aff" stroke-width="1.5"/>
<text x="1195.9" y="112.3" font-family="'Liberation Serif', 'DejaVu Serif', serif" font-size="19.5" text-anchor="middle" fill="#0a0aff" stroke="#0a0aff" stroke-width="0.45" letter-spacing="-0.6">7</text>
<circle cx="1196.1" cy="144.0" r="10.3" fill="none" stroke="#0a0aff" stroke-width="1.5"/>
<text x="1195.9" y="150.5" font-family="'Liberation Serif', 'DejaVu Serif', serif" font-size="19.5" text-anchor="middle" fill="#0a0aff" stroke="#0a0aff" stroke-width="0.45" letter-spacing="-0.6">3</text>
<circle cx="820.6" cy="358.6" r="12.6" fill="none" stroke="#0a0aff" stroke-width="1.5"/>
<text x="820.3" y="364.9" font-family="'Liberation Serif', 'DejaVu Serif', serif" font-size="20.5" text-anchor="middle" fill="#0a0aff" stroke="#0a0aff" stroke-width="0.45" letter-spacing="-0.6">16</text>
<circle cx="846.4" cy="358.0" r="12.6" fill="none" stroke="#0a0aff" stroke-width="1.5"/>
<text x="845.9" y="364.9" font-family="'Liberation Serif', 'DejaVu Serif', serif" font-size="20.5" text-anchor="middle" fill="#0a0aff" stroke="#0a0aff" stroke-width="0.45" letter-spacing="-0.6">18</text>
<circle cx="818.6" cy="378.8" r="12.8" fill="none" stroke="#0a0aff" stroke-width="1.5"/>
<text x="818.3" y="385.7" font-family="'Liberation Serif', 'DejaVu Serif', serif" font-size="20.5" text-anchor="middle" fill="#0a0aff" stroke="#0a0aff" stroke-width="0.45" letter-spacing="-0.6">15</text>
<g fill="none" stroke="#f7b500" stroke-width="2.5" stroke-linecap="round" stroke-linejoin="round">
<path d="M1190.0 107.8C1187.4 109.8 1181.6 114.2 1174.2 120.0C1166.8 125.8 1154.3 136.4 1145.5 142.8C1136.7 149.2 1129.1 153.3 1121.1 158.4C1113.1 163.5 1105.4 168.9 1097.6 173.6C1089.8 178.3 1081.8 182.7 1074.0 186.4C1066.2 190.1 1058.3 193.5 1050.5 195.8C1042.7 198.1 1034.8 198.9 1027.0 200.1C1019.2 201.3 1011.3 202.3 1003.5 203.2C995.7 204.1 987.2 204.9 980.0 205.6C972.8 206.3 967.7 206.1 960.0 207.4C952.3 208.7 941.5 210.9 933.8 213.4C926.1 215.9 920.4 218.7 913.7 222.7C907.0 226.7 899.2 232.6 893.6 237.5C888.0 242.4 884.8 246.6 880.3 252.2C875.8 257.8 871.4 264.0 866.9 270.9C862.4 277.8 858.0 285.8 853.5 293.6C849.0 301.4 844.6 309.0 840.1 317.7C835.6 326.4 829.7 339.6 826.8 345.8C823.9 352.0 823.2 353.5 822.5 355.0"/>
<path d="M1190.4 108.4C1187.8 110.5 1182.0 114.9 1174.6 120.8C1167.2 126.7 1154.8 137.3 1145.9 143.8C1137.1 150.3 1129.5 154.4 1121.5 159.6C1113.5 164.8 1105.8 170.3 1098.0 175.0C1090.2 179.7 1082.3 184.1 1074.4 187.8C1066.5 191.5 1058.6 194.8 1050.7 197.0C1042.8 199.2 1034.9 199.9 1027.0 201.0C1019.1 202.1 1011.3 203.0 1003.5 203.8C995.7 204.6 987.2 205.3 980.0 206.0C972.8 206.7 965.5 207.0 960.0 207.9C954.5 208.8 951.6 209.6 947.2 211.4C942.8 213.2 938.3 215.5 933.8 218.7C929.3 221.9 924.4 226.6 920.4 230.8C916.4 235.0 913.3 239.0 909.7 244.1C906.1 249.2 902.4 255.7 899.0 261.5C895.6 267.3 892.7 272.2 889.6 278.9C886.5 285.6 883.2 294.8 880.3 301.7C877.4 308.6 874.9 314.4 872.2 320.4C869.5 326.4 866.8 332.3 864.2 337.8C861.6 343.3 857.9 350.6 856.6 353.2"/>
<path d="M1195.5 149.3C1191.2 151.5 1179.2 157.2 1170.0 162.5C1160.8 167.8 1148.2 176.2 1140.0 181.1C1131.8 186.0 1128.2 187.9 1121.1 191.7C1114.0 195.5 1105.4 200.2 1097.6 204.1C1089.8 208.0 1081.8 212.2 1074.0 215.2C1066.2 218.2 1058.3 220.4 1050.5 222.3C1042.7 224.2 1034.8 225.3 1027.0 226.4C1019.2 227.5 1011.3 228.1 1003.5 228.8C995.7 229.5 987.2 230.0 980.0 230.5C972.8 231.0 966.6 231.1 960.0 231.9C953.4 232.7 947.1 233.5 940.5 235.1C933.9 236.7 926.4 238.9 920.4 241.5C914.4 244.1 909.2 247.4 904.3 250.8C899.4 254.2 895.8 257.5 891.0 262.2C886.2 266.9 880.4 272.8 875.6 278.9C870.8 285.0 866.7 292.1 862.2 299.0C857.7 305.9 853.2 313.8 848.8 320.4C844.4 327.0 839.0 334.2 835.6 338.6C832.2 343.0 830.3 343.8 828.2 346.6C826.1 349.4 823.8 353.8 822.9 355.2"/>
<path d="M1196.3 150.0C1191.9 152.5 1179.4 158.9 1170.0 164.8C1160.6 170.7 1148.2 179.8 1140.0 185.3C1131.8 190.8 1128.2 193.0 1121.1 197.6C1114.0 202.2 1105.4 208.5 1097.6 212.9C1089.8 217.3 1081.8 221.0 1074.0 224.1C1066.2 227.2 1058.3 229.8 1050.5 231.7C1042.7 233.6 1034.8 234.7 1027.0 235.8C1019.2 236.9 1011.3 237.5 1003.5 238.2C995.7 238.8 987.2 239.3 980.0 239.7C972.8 240.0 966.6 239.7 960.0 240.3C953.4 240.9 946.6 241.8 940.5 243.5C934.4 245.2 928.2 247.6 923.1 250.2C918.0 252.8 913.9 255.7 909.7 258.9C905.5 262.1 901.5 266.0 897.7 269.6C893.9 273.2 891.1 275.4 887.0 280.3C882.9 285.2 877.6 292.3 872.9 299.0C868.2 305.7 863.2 313.7 858.9 320.4C854.5 327.1 850.1 334.0 846.8 339.1C843.4 344.2 841.2 347.4 838.8 351.2C836.3 355.0 834.3 357.7 832.1 362.0C829.9 366.3 826.6 374.5 825.5 377.0"/>
</g>
</g>
<g id="panelC" font-family="'Liberation Sans', Arial, sans-serif">
<text x="56" y="540.6" font-size="47" font-weight="bold" fill="#000">C</text>
<text x="254.5" y="583.4" font-size="18.4" text-anchor="middle" fill="#111">CH3-CH15</text>
<g fill="#50da76" stroke="#141a16" stroke-width="0.9"><rect x="141.40" y="779.95" width="3.60" height="6.95"/><rect x="145.01" y="779.95" width="3.60" height="6.95"/><rect x="152.22" y="779.95" width="3.60" height="6.95"/><rect x="159.43" y="769.52" width="3.60" height="17.38"/><rect x="163.03" y="766.05" width="3.60" height="20.85"/><rect x="166.63" y="745.20" width="3.60" height="41.70"/><rect x="170.24" y="759.10" width="3.60" height="27.80"/><rect x="173.84" y="752.15" width="3.60" height="34.75"/><rect x="177.45" y="752.15" width="3.60" height="34.75"/><rect x="181.05" y="759.10" width="3.60" height="27.80"/><rect x="184.66" y="745.20" width="3.60" height="41.70"/><rect x="188.26" y="731.30" width="3.60" height="55.60"/><rect x="191.87" y="717.40" width="3.60" height="69.50"/><rect x="195.47" y="706.98" width="3.60" height="79.92"/><rect x="199.08" y="689.60" width="3.60" height="97.30"/><rect x="202.68" y="661.80" width="3.60" height="125.10"/><rect x="206.29" y="651.38" width="3.60" height="135.52"/><rect x="209.89" y="661.80" width="3.60" height="125.10"/><rect x="213.50" y="644.42" width="3.60" height="142.48"/><rect x="217.10" y="668.75" width="3.60" height="118.15"/><rect x="220.71" y="623.57" width="3.60" height="163.33"/><rect x="224.31" y="606.20" width="3.60" height="180.70"/><rect x="227.92" y="644.42" width="3.60" height="142.48"/><rect x="231.52" y="599.25" width="3.60" height="187.65"/><rect x="235.13" y="640.95" width="3.60" height="145.95"/><rect x="238.73" y="634.00" width="3.60" height="152.90"/><rect x="242.33" y="596.30" width="3.60" height="190.60"/><rect x="245.94" y="658.32" width="3.60" height="128.58"/><rect x="249.54" y="658.32" width="3.60" height="128.58"/><rect x="253.15" y="647.90" width="3.60" height="139.00"/><rect x="256.75" y="696.55" width="3.60" height="90.35"/><rect x="260.36" y="693.07" width="3.60" height="93.83"/><rect x="263.96" y="682.65" width="3.60" height="104.25"/><rect x="267.57" y="689.60" width="3.60" height="97.30"/><rect x="271.17" y="741.73" width="3.60" height="45.17"/><rect x="274.78" y="720.88" width="3.60" height="66.02"/><rect x="278.38" y="748.67" width="3.60" height="38.23"/><rect x="281.99" y="734.77" width="3.60" height="52.12"/><rect x="285.59" y="769.52" width="3.60" height="17.38"/><rect x="289.20" y="766.05" width="3.60" height="20.85"/><rect x="292.80" y="759.10" width="3.60" height="27.80"/><rect x="296.41" y="779.95" width="3.60" height="6.95"/><rect x="300.01" y="779.95" width="3.60" height="6.95"/><rect x="303.62" y="773.00" width="3.60" height="13.90"/><rect x="307.22" y="783.42" width="3.60" height="3.48"/><rect x="314.43" y="783.42" width="3.60" height="3.48"/><rect x="318.03" y="783.42" width="3.60" height="3.48"/><rect x="325.24" y="783.42" width="3.60" height="3.48"/><rect x="332.45" y="783.42" width="3.60" height="3.48"/></g>
<path d="M120.1 786.9C121.8 786.9 126.8 787.3 130.1 786.9C133.5 786.5 136.8 786.3 140.2 784.8C143.5 783.2 146.9 780.4 150.2 777.7C153.5 775.1 156.9 771.9 160.2 768.7C163.6 765.5 167.3 761.5 170.3 758.7C173.3 755.8 176.0 754.3 178.3 751.7C180.6 749.0 182.3 747.1 184.3 742.6C186.3 738.1 188.3 730.9 190.3 724.6C192.3 718.2 194.4 711.5 196.4 704.5C198.4 697.5 200.4 689.4 202.4 682.4C204.4 675.4 206.4 668.0 208.4 662.3C210.4 656.7 212.1 652.6 214.4 648.3C216.8 644.0 220.1 639.3 222.5 636.3C224.8 633.2 226.7 631.1 228.5 629.8C230.2 628.6 231.2 628.6 232.9 628.6C234.6 628.7 236.6 628.8 238.5 630.2C240.4 631.7 242.5 633.9 244.5 637.3C246.5 640.6 248.5 645.1 250.5 650.3C252.6 655.5 254.6 662.7 256.6 668.4C258.6 674.1 260.6 679.1 262.6 684.4C264.6 689.8 266.6 694.5 268.6 700.5C270.6 706.5 272.6 713.9 274.6 720.5C276.6 727.2 278.6 734.6 280.6 740.6C282.7 746.6 284.7 752.0 286.7 756.7C288.7 761.4 290.3 765.0 292.7 768.7C295.0 772.4 297.7 776.2 300.7 778.7C303.7 781.3 307.4 782.6 310.8 783.8C314.1 784.9 317.6 785.3 320.8 785.8C324.0 786.3 325.0 786.6 330.0 786.8C335.0 787.0 347.4 786.9 350.9 786.9" fill="none" stroke="#2b2b2b" stroke-width="1.3"/>
<path d="M126.89 786.90V596.30" stroke="#c0341f" stroke-width="3.3" stroke-dasharray="12.8 14.2" fill="none"/>
<path d="M98.80 596.30V786.90H411.50" fill="none" stroke="#111111" stroke-width="1.4"/>
<g font-size="14.2" fill="#4d4d4d">
<text x="98.50" y="805.90" text-anchor="middle">-5</text>
<text x="129.71" y="805.90" text-anchor="middle">-4</text>
<text x="160.92" y="805.90" text-anchor="middle">-3</text>
<text x="192.13" y="805.90" text-anchor="middle">-2</text>
<text x="223.34" y="805.90" text-anchor="middle">-1</text>
<text x="254.55" y="805.90" text-anchor="middle">0</text>
<text x="285.76" y="805.90" text-anchor="middle">1</text>
<text x="316.97" y="805.90" text-anchor="middle">2</text>
<text x="348.18" y="805.90" text-anchor="middle">3</text>
<text x="379.39" y="805.90" text-anchor="middle">4</text>
<text x="410.60" y="805.90" text-anchor="middle">5</text>
<text x="91.50" y="792.10" text-anchor="end">0</text>
<text x="91.50" y="757.35" text-anchor="end">10</text>
<text x="91.50" y="722.60" text-anchor="end">20</text>
<text x="91.50" y="687.85" text-anchor="end">30</text>
<text x="91.50" y="653.10" text-anchor="end">40</text>
<text x="91.50" y="618.35" text-anchor="end">50</text>
</g>
<path d="M98.80 786.90v4.3M130.01 786.90v4.3M161.22 786.90v4.3M192.43 786.90v4.3M223.64 786.90v4.3M254.85 786.90v4.3M286.06 786.90v4.3M317.27 786.90v4.3M348.48 786.90v4.3M379.69 786.90v4.3M410.90 786.90v4.3M98.80 786.90h-4.3M98.80 752.15h-4.3M98.80 717.40h-4.3M98.80 682.65h-4.3M98.80 647.90h-4.3M98.80 613.15h-4.3" stroke="#333333" stroke-width="1.3" fill="none"/>
<text x="254.5" y="827.5" font-size="18.3" text-anchor="middle" fill="#111">T-value</text>
<text transform="translate(65.6 691.3) rotate(-90)" font-size="18" text-anchor="middle" fill="#111">Count</text>
<text x="631.4" y="583.4" font-size="18.4" text-anchor="middle" fill="#111">CH3-CH16</text>
<g fill="#50da76" stroke="#141a16" stroke-width="0.9"><rect x="557.98" y="781.51" width="3.61" height="5.39"/><rect x="561.59" y="773.43" width="3.61" height="13.47"/><rect x="565.19" y="781.51" width="3.61" height="5.39"/><rect x="568.80" y="781.51" width="3.61" height="5.39"/><rect x="572.41" y="776.12" width="3.61" height="10.78"/><rect x="576.02" y="777.47" width="3.61" height="9.43"/><rect x="579.63" y="759.96" width="3.61" height="26.94"/><rect x="583.24" y="770.74" width="3.61" height="16.16"/><rect x="586.85" y="754.57" width="3.61" height="32.33"/><rect x="590.45" y="762.65" width="3.61" height="24.25"/><rect x="594.06" y="727.63" width="3.61" height="59.27"/><rect x="597.67" y="716.86" width="3.61" height="70.04"/><rect x="601.28" y="724.94" width="3.61" height="61.96"/><rect x="604.89" y="706.08" width="3.61" height="80.82"/><rect x="608.50" y="684.53" width="3.61" height="102.37"/><rect x="612.11" y="687.22" width="3.61" height="99.68"/><rect x="615.71" y="689.92" width="3.61" height="96.98"/><rect x="619.32" y="711.47" width="3.61" height="75.43"/><rect x="622.93" y="662.98" width="3.61" height="123.92"/><rect x="626.54" y="676.45" width="3.61" height="110.45"/><rect x="630.15" y="596.30" width="3.61" height="190.60"/><rect x="633.76" y="654.89" width="3.61" height="132.01"/><rect x="637.37" y="653.55" width="3.61" height="133.35"/><rect x="640.97" y="649.51" width="3.61" height="137.39"/><rect x="644.58" y="665.67" width="3.61" height="121.23"/><rect x="648.19" y="692.61" width="3.61" height="94.29"/><rect x="651.80" y="689.92" width="3.61" height="96.98"/><rect x="655.41" y="679.14" width="3.61" height="107.76"/><rect x="659.02" y="695.30" width="3.61" height="91.60"/><rect x="662.63" y="687.22" width="3.61" height="99.68"/><rect x="666.23" y="711.47" width="3.61" height="75.43"/><rect x="669.84" y="719.55" width="3.61" height="67.35"/><rect x="673.45" y="741.10" width="3.61" height="45.80"/><rect x="677.06" y="735.71" width="3.61" height="51.19"/><rect x="680.67" y="757.27" width="3.61" height="29.63"/><rect x="684.28" y="743.80" width="3.61" height="43.10"/><rect x="687.89" y="765.35" width="3.61" height="21.55"/><rect x="691.49" y="770.74" width="3.61" height="16.16"/><rect x="695.10" y="770.74" width="3.61" height="16.16"/><rect x="698.71" y="778.82" width="3.61" height="8.08"/><rect x="702.32" y="776.12" width="3.61" height="10.78"/><rect x="705.93" y="770.74" width="3.61" height="16.16"/><rect x="709.54" y="778.82" width="3.61" height="8.08"/><rect x="713.15" y="781.51" width="3.61" height="5.39"/><rect x="716.75" y="784.21" width="3.61" height="2.69"/><rect x="720.36" y="781.51" width="3.61" height="5.39"/><rect x="723.97" y="781.51" width="3.61" height="5.39"/><rect x="727.58" y="781.51" width="3.61" height="5.39"/><rect x="734.80" y="784.21" width="3.61" height="2.69"/><rect x="752.84" y="778.82" width="3.61" height="8.08"/><rect x="756.45" y="784.21" width="3.61" height="2.69"/></g>
<path d="M530.0 786.6C531.8 786.6 537.1 786.6 540.6 786.4C544.1 786.2 548.2 786.1 551.2 785.4C554.1 784.7 555.9 783.3 558.2 782.2C560.6 781.1 562.9 780.0 565.3 778.7C567.6 777.4 569.9 776.2 572.3 774.3C574.8 772.4 577.4 770.3 579.9 767.2C582.4 764.1 584.7 760.5 587.1 755.8C589.5 751.1 592.0 744.3 594.4 739.0C596.8 733.7 599.2 729.5 601.6 724.0C604.0 718.6 606.4 711.4 608.8 706.4C611.2 701.4 614.2 697.4 616.1 694.0C617.9 690.7 618.5 689.6 619.8 686.1C621.0 682.6 622.1 676.8 623.3 672.9C624.5 668.9 625.8 665.5 627.0 662.3C628.2 659.1 629.2 655.6 630.5 653.8C631.8 652.1 633.5 651.8 634.9 651.7C636.4 651.7 637.7 651.4 639.3 653.5C640.9 655.5 642.9 659.9 644.6 664.1C646.4 668.2 648.0 674.2 649.9 678.2C651.8 682.1 654.0 684.9 655.9 687.9C657.8 690.8 659.6 692.7 661.4 695.8C663.2 698.9 665.0 702.9 666.7 706.4C668.3 709.9 669.5 712.8 671.1 717.0C672.7 721.1 674.6 726.4 676.4 731.1C678.1 735.8 679.7 740.5 681.6 745.2C683.6 749.9 686.0 755.2 688.3 759.3C690.7 763.4 693.2 767.1 695.6 769.9C698.0 772.7 700.4 774.4 702.8 776.0C705.2 777.7 707.6 778.5 710.0 779.6C712.4 780.6 714.9 781.9 717.3 782.6C719.7 783.2 721.5 783.1 724.5 783.6C727.5 784.1 731.7 785.0 735.4 785.4C739.2 785.7 743.9 785.8 746.9 785.7C749.9 785.6 751.4 784.9 753.4 784.9C755.5 784.9 756.5 785.5 759.2 785.7C762.0 786.0 768.2 786.3 770.0 786.4" fill="none" stroke="#2b2b2b" stroke-width="1.3"/>
<path d="M494.37 786.90V596.30" stroke="#c0341f" stroke-width="3.3" stroke-dasharray="12.8 14.2" fill="none"/>
<path d="M475.30 596.30V786.90H788.60" fill="none" stroke="#111111" stroke-width="1.4"/>
<g font-size="14.2" fill="#4d4d4d">
<text x="475.00" y="805.90" text-anchor="middle">-5</text>
<text x="506.27" y="805.90" text-anchor="middle">-4</text>
<text x="537.54" y="805.90" text-anchor="middle">-3</text>
<text x="568.81" y="805.90" text-anchor="middle">-2</text>
<text x="600.08" y="805.90" text-anchor="middle">-1</text>
<text x="631.35" y="805.90" text-anchor="middle">0</text>
<text x="662.62" y="805.90" text-anchor="middle">1</text>
<text x="693.89" y="805.90" text-anchor="middle">2</text>
<text x="725.16" y="805.90" text-anchor="middle">3</text>
<text x="756.43" y="805.90" text-anchor="middle">4</text>
<text x="787.70" y="805.90" text-anchor="middle">5</text>
<text x="468.00" y="792.10" text-anchor="end">0</text>
<text x="468.00" y="738.22" text-anchor="end">20</text>
<text x="468.00" y="684.34" text-anchor="end">40</text>
<text x="468.00" y="630.46" text-anchor="end">60</text>
</g>
<path d="M475.30 786.90v4.3M506.57 786.90v4.3M537.84 786.90v4.3M569.11 786.90v4.3M600.38 786.90v4.3M631.65 786.90v4.3M662.92 786.90v4.3M694.19 786.90v4.3M725.46 786.90v4.3M756.73 786.90v4.3M788.00 786.90v4.3M475.30 786.90h-4.3M475.30 733.02h-4.3M475.30 679.14h-4.3M475.30 625.26h-4.3" stroke="#333333" stroke-width="1.3" fill="none"/>
<text x="631.4" y="827.5" font-size="18.3" text-anchor="middle" fill="#111">T-value</text>
<text transform="translate(442.1 691.3) rotate(-90)" font-size="18" text-anchor="middle" fill="#111">Count</text>
<text x="254.5" y="922.1" font-size="18.4" text-anchor="middle" fill="#111">CH7-CH16</text>
<g fill="#50da76" stroke="#141a16" stroke-width="0.9"><rect x="170.68" y="1118.72" width="3.60" height="7.08"/><rect x="174.28" y="1122.26" width="3.60" height="3.54"/><rect x="177.89" y="1118.72" width="3.60" height="7.08"/><rect x="181.49" y="1115.18" width="3.60" height="10.62"/><rect x="188.70" y="1118.72" width="3.60" height="7.08"/><rect x="192.31" y="1108.11" width="3.60" height="17.69"/><rect x="195.91" y="1122.26" width="3.60" height="3.54"/><rect x="199.51" y="1101.03" width="3.60" height="24.77"/><rect x="203.12" y="1090.41" width="3.60" height="35.39"/><rect x="206.72" y="1090.41" width="3.60" height="35.39"/><rect x="210.33" y="1090.41" width="3.60" height="35.39"/><rect x="213.93" y="1055.02" width="3.60" height="70.78"/><rect x="217.54" y="1065.64" width="3.60" height="60.16"/><rect x="221.14" y="1058.56" width="3.60" height="67.24"/><rect x="224.75" y="1037.33" width="3.60" height="88.47"/><rect x="228.35" y="966.54" width="3.60" height="159.25"/><rect x="231.96" y="1030.25" width="3.60" height="95.55"/><rect x="235.56" y="1023.17" width="3.60" height="102.63"/><rect x="239.17" y="935.00" width="3.60" height="190.80"/><rect x="242.77" y="973.62" width="3.60" height="152.18"/><rect x="246.38" y="959.47" width="3.60" height="166.33"/><rect x="249.98" y="955.93" width="3.60" height="169.87"/><rect x="253.59" y="955.93" width="3.60" height="169.87"/><rect x="257.19" y="973.62" width="3.60" height="152.18"/><rect x="260.80" y="945.31" width="3.60" height="180.49"/><rect x="264.40" y="980.70" width="3.60" height="145.10"/><rect x="268.01" y="998.40" width="3.60" height="127.40"/><rect x="271.61" y="970.08" width="3.60" height="155.72"/><rect x="275.21" y="984.24" width="3.60" height="141.56"/><rect x="278.82" y="1033.79" width="3.60" height="92.01"/><rect x="282.42" y="1016.09" width="3.60" height="109.71"/><rect x="286.03" y="1009.01" width="3.60" height="116.79"/><rect x="289.63" y="1033.79" width="3.60" height="92.01"/><rect x="293.24" y="1016.09" width="3.60" height="109.71"/><rect x="296.84" y="1065.64" width="3.60" height="60.16"/><rect x="300.45" y="1051.48" width="3.60" height="74.32"/><rect x="304.05" y="1055.02" width="3.60" height="70.78"/><rect x="307.66" y="1090.41" width="3.60" height="35.39"/><rect x="311.26" y="1058.56" width="3.60" height="67.24"/><rect x="314.87" y="1108.11" width="3.60" height="17.69"/><rect x="318.47" y="1101.03" width="3.60" height="24.77"/><rect x="322.08" y="1108.11" width="3.60" height="17.69"/><rect x="325.68" y="1108.11" width="3.60" height="17.69"/><rect x="329.29" y="1118.72" width="3.60" height="7.08"/><rect x="332.89" y="1115.18" width="3.60" height="10.62"/><rect x="336.50" y="1118.72" width="3.60" height="7.08"/><rect x="340.10" y="1122.26" width="3.60" height="3.54"/><rect x="343.70" y="1118.72" width="3.60" height="7.08"/><rect x="347.31" y="1122.26" width="3.60" height="3.54"/><rect x="350.91" y="1122.26" width="3.60" height="3.54"/><rect x="361.73" y="1122.26" width="3.60" height="3.54"/><rect x="365.33" y="1122.26" width="3.60" height="3.54"/><rect x="386.96" y="1122.26" width="3.60" height="3.54"/></g>
<path d="M124.7 1125.5C128.3 1125.5 140.0 1125.4 145.9 1125.3C151.8 1125.2 155.9 1125.6 160.0 1125.0C164.1 1124.3 167.1 1122.8 170.6 1121.6C174.1 1120.5 177.6 1119.7 181.2 1118.1C184.7 1116.5 188.7 1114.4 191.7 1111.9C194.7 1109.4 196.7 1106.6 199.1 1103.1C201.6 1099.6 204.0 1095.5 206.4 1090.8C208.8 1086.1 211.2 1081.1 213.6 1074.9C216.0 1068.7 218.4 1061.7 220.8 1053.7C223.2 1045.8 225.7 1036.4 228.1 1027.3C230.5 1018.2 232.9 1007.6 235.3 999.1C237.7 990.5 240.4 981.5 242.5 976.1C244.7 970.8 246.6 968.7 248.2 967.0C249.7 965.2 250.2 965.4 251.7 965.6C253.2 965.8 254.9 966.4 257.0 968.2C259.0 970.0 261.7 972.5 264.0 976.1C266.4 979.8 268.4 984.7 271.1 990.2C273.7 995.8 277.0 1003.8 279.9 1009.6C282.8 1015.5 285.9 1019.6 288.7 1025.5C291.5 1031.4 294.3 1038.7 296.8 1044.9C299.4 1051.1 301.7 1056.7 304.1 1062.5C306.5 1068.4 308.9 1074.3 311.3 1080.2C313.7 1086.1 316.1 1092.8 318.5 1097.8C320.9 1102.8 323.3 1106.9 325.8 1110.2C328.2 1113.4 330.6 1115.3 333.0 1117.2C335.4 1119.1 337.2 1120.4 340.2 1121.6C343.2 1122.8 346.8 1123.7 351.0 1124.3C355.2 1124.8 359.4 1124.7 365.4 1124.8C371.5 1124.8 381.4 1124.5 387.1 1124.6C392.9 1124.7 397.8 1125.2 400.0 1125.3" fill="none" stroke="#2b2b2b" stroke-width="1.3"/>
<path d="M105.98 1125.80V935.00" stroke="#c0341f" stroke-width="3.3" stroke-dasharray="12.8 14.2" fill="none"/>
<path d="M98.80 935.00V1125.80H411.50" fill="none" stroke="#111111" stroke-width="1.4"/>
<g font-size="14.2" fill="#4d4d4d">
<text x="98.50" y="1145.40" text-anchor="middle">-5</text>
<text x="129.71" y="1145.40" text-anchor="middle">-4</text>
<text x="160.92" y="1145.40" text-anchor="middle">-3</text>
<text x="192.13" y="1145.40" text-anchor="middle">-2</text>
<text x="223.34" y="1145.40" text-anchor="middle">-1</text>
<text x="254.55" y="1145.40" text-anchor="middle">0</text>
<text x="285.76" y="1145.40" text-anchor="middle">1</text>
<text x="316.97" y="1145.40" text-anchor="middle">2</text>
<text x="348.18" y="1145.40" text-anchor="middle">3</text>
<text x="379.39" y="1145.40" text-anchor="middle">4</text>
<text x="410.60" y="1145.40" text-anchor="middle">5</text>
<text x="91.50" y="1131.00" text-anchor="end">0</text>
<text x="91.50" y="1095.61" text-anchor="end">10</text>
<text x="91.50" y="1060.22" text-anchor="end">20</text>
<text x="91.50" y="1024.83" text-anchor="end">30</text>
<text x="91.50" y="989.44" text-anchor="end">40</text>
<text x="91.50" y="954.05" text-anchor="end">50</text>
</g>
<path d="M98.80 1125.80v4.3M130.01 1125.80v4.3M161.22 1125.80v4.3M192.43 1125.80v4.3M223.64 1125.80v4.3M254.85 1125.80v4.3M286.06 1125.80v4.3M317.27 1125.80v4.3M348.48 1125.80v4.3M379.69 1125.80v4.3M410.90 1125.80v4.3M98.80 1125.80h-4.3M98.80 1090.41h-4.3M98.80 1055.02h-4.3M98.80 1019.63h-4.3M98.80 984.24h-4.3M98.80 948.85h-4.3" stroke="#333333" stroke-width="1.3" fill="none"/>
<text x="254.5" y="1167.4" font-size="18.3" text-anchor="middle" fill="#111">T-value</text>
<text transform="translate(65.6 1030.1) rotate(-90)" font-size="18" text-anchor="middle" fill="#111">Count</text>
<text x="631.4" y="922.1" font-size="18.4" text-anchor="middle" fill="#111">CH7-CH18</text>
<g fill="#50da76" stroke="#141a16" stroke-width="0.9"><rect x="533.06" y="1122.81" width="3.61" height="2.99"/><rect x="547.50" y="1124.30" width="3.61" height="1.50"/><rect x="551.11" y="1119.82" width="3.61" height="5.98"/><rect x="554.73" y="1122.81" width="3.61" height="2.99"/><rect x="558.34" y="1122.81" width="3.61" height="2.99"/><rect x="561.95" y="1116.82" width="3.61" height="8.98"/><rect x="565.56" y="1107.85" width="3.61" height="17.95"/><rect x="569.17" y="1104.86" width="3.61" height="20.94"/><rect x="572.78" y="1116.82" width="3.61" height="8.98"/><rect x="576.40" y="1089.90" width="3.61" height="35.90"/><rect x="580.01" y="1089.90" width="3.61" height="35.90"/><rect x="583.62" y="1101.86" width="3.61" height="23.94"/><rect x="587.23" y="1095.88" width="3.61" height="29.92"/><rect x="590.84" y="1092.89" width="3.61" height="32.91"/><rect x="594.45" y="1062.97" width="3.61" height="62.83"/><rect x="598.07" y="1062.97" width="3.61" height="62.83"/><rect x="601.68" y="1045.02" width="3.61" height="80.78"/><rect x="605.29" y="1012.10" width="3.61" height="113.70"/><rect x="608.90" y="1068.95" width="3.61" height="56.85"/><rect x="612.51" y="991.16" width="3.61" height="134.64"/><rect x="616.12" y="1027.06" width="3.61" height="98.74"/><rect x="619.74" y="985.18" width="3.61" height="140.62"/><rect x="623.35" y="988.17" width="3.61" height="137.63"/><rect x="626.96" y="935.00" width="3.61" height="190.80"/><rect x="630.57" y="1000.14" width="3.61" height="125.66"/><rect x="634.18" y="964.23" width="3.61" height="161.57"/><rect x="637.79" y="1000.14" width="3.61" height="125.66"/><rect x="641.41" y="1009.11" width="3.61" height="116.69"/><rect x="645.02" y="1009.11" width="3.61" height="116.69"/><rect x="648.63" y="988.17" width="3.61" height="137.63"/><rect x="652.24" y="1033.05" width="3.61" height="92.75"/><rect x="655.85" y="1009.11" width="3.61" height="116.69"/><rect x="659.46" y="1039.03" width="3.61" height="86.77"/><rect x="663.08" y="1015.10" width="3.61" height="110.70"/><rect x="666.69" y="1045.02" width="3.61" height="80.78"/><rect x="670.30" y="1071.94" width="3.61" height="53.86"/><rect x="673.91" y="1056.98" width="3.61" height="68.82"/><rect x="677.52" y="1059.98" width="3.61" height="65.82"/><rect x="681.13" y="1080.92" width="3.61" height="44.88"/><rect x="684.75" y="1095.88" width="3.61" height="29.92"/><rect x="688.36" y="1101.86" width="3.61" height="23.94"/><rect x="691.97" y="1107.85" width="3.61" height="17.95"/><rect x="695.58" y="1104.86" width="3.61" height="20.94"/><rect x="699.19" y="1104.86" width="3.61" height="20.94"/><rect x="702.80" y="1110.84" width="3.61" height="14.96"/><rect x="706.42" y="1110.84" width="3.61" height="14.96"/><rect x="710.03" y="1116.82" width="3.61" height="8.98"/><rect x="713.64" y="1122.81" width="3.61" height="2.99"/><rect x="717.25" y="1122.81" width="3.61" height="2.99"/><rect x="720.86" y="1122.81" width="3.61" height="2.99"/><rect x="724.47" y="1122.81" width="3.61" height="2.99"/><rect x="731.70" y="1119.82" width="3.61" height="5.98"/><rect x="742.53" y="1122.81" width="3.61" height="2.99"/></g>
<path d="M519.4 1125.5C521.2 1125.5 526.5 1125.5 530.0 1125.3C533.5 1125.2 537.1 1125.3 540.6 1124.6C544.1 1123.9 547.6 1122.9 551.2 1121.1C554.7 1119.3 558.5 1116.4 562.1 1113.7C565.7 1111.0 569.9 1107.4 572.8 1104.9C575.8 1102.4 577.7 1101.0 580.1 1098.7C582.5 1096.3 584.9 1095.0 587.3 1090.8C589.7 1086.5 592.1 1080.2 594.5 1073.1C596.9 1066.1 599.4 1055.8 601.8 1048.4C604.2 1041.1 606.6 1035.8 609.0 1029.0C611.4 1022.3 613.8 1014.6 616.2 1007.9C618.6 1001.1 621.2 992.9 623.5 988.5C625.7 984.0 627.6 981.1 629.6 981.1C631.7 981.1 633.6 984.9 635.8 988.5C638.0 992.1 640.5 998.8 642.9 1002.6C645.2 1006.4 647.6 1008.5 649.9 1011.4C652.3 1014.3 654.6 1016.7 657.0 1020.2C659.3 1023.7 661.7 1027.9 664.0 1032.6C666.4 1037.3 668.8 1042.9 671.1 1048.4C673.4 1054.0 675.4 1059.9 677.8 1066.1C680.1 1072.2 682.6 1079.6 685.0 1085.5C687.4 1091.3 689.8 1097.5 692.2 1101.3C694.6 1105.2 697.0 1106.2 699.5 1108.4C701.9 1110.6 704.3 1112.5 706.7 1114.6C709.1 1116.6 711.5 1119.2 713.9 1120.7C716.3 1122.3 718.2 1123.3 721.1 1123.9C724.1 1124.6 728.3 1124.4 731.9 1124.6C735.5 1124.8 736.5 1124.8 742.8 1125.0C749.2 1125.1 765.5 1125.4 770.0 1125.5" fill="none" stroke="#2b2b2b" stroke-width="1.3"/>
<path d="M497.50 1125.80V935.00" stroke="#c0341f" stroke-width="3.3" stroke-dasharray="12.8 14.2" fill="none"/>
<path d="M475.30 935.00V1125.80H788.60" fill="none" stroke="#111111" stroke-width="1.4"/>
<g font-size="14.2" fill="#4d4d4d">
<text x="475.00" y="1145.40" text-anchor="middle">-5</text>
<text x="506.27" y="1145.40" text-anchor="middle">-4</text>
<text x="537.54" y="1145.40" text-anchor="middle">-3</text>
<text x="568.81" y="1145.40" text-anchor="middle">-2</text>
<text x="600.08" y="1145.40" text-anchor="middle">-1</text>
<text x="631.35" y="1145.40" text-anchor="middle">0</text>
<text x="662.62" y="1145.40" text-anchor="middle">1</text>
<text x="693.89" y="1145.40" text-anchor="middle">2</text>
<text x="725.16" y="1145.40" text-anchor="middle">3</text>
<text x="756.43" y="1145.40" text-anchor="middle">4</text>
<text x="787.70" y="1145.40" text-anchor="middle">5</text>
<text x="468.00" y="1131.00" text-anchor="end">0</text>
<text x="468.00" y="1071.16" text-anchor="end">20</text>
<text x="468.00" y="1011.32" text-anchor="end">40</text>
<text x="468.00" y="951.48" text-anchor="end">60</text>
</g>
<path d="M475.30 1125.80v4.3M506.57 1125.80v4.3M537.84 1125.80v4.3M569.11 1125.80v4.3M600.38 1125.80v4.3M631.65 1125.80v4.3M662.92 1125.80v4.3M694.19 1125.80v4.3M725.46 1125.80v4.3M756.73 1125.80v4.3M788.00 1125.80v4.3M475.30 1125.80h-4.3M475.30 1065.96h-4.3M475.30 1006.12h-4.3M475.30 946.28h-4.3" stroke="#333333" stroke-width="1.3" fill="none"/>
<text x="631.4" y="1167.4" font-size="18.3" text-anchor="middle" fill="#111">T-value</text>
<text transform="translate(442.1 1030.1) rotate(-90)" font-size="18" text-anchor="middle" fill="#111">Count</text>
</g>
<g id="panelDE" font-family="'Liberation Sans', Arial, sans-serif">
<text x="798" y="542.3" font-size="47" font-weight="bold" fill="#000">D</text>
<text x="797.8" y="844.9" font-size="47" font-weight="bold" fill="#000">E</text>
<g fill="#c23b22">
<circle cx="910.3" cy="672.8" r="5.15"/>
<circle cx="973.9" cy="707.5" r="5.15"/>
<circle cx="1008.0" cy="585.7" r="5.15"/>
<circle cx="1018.3" cy="605.8" r="5.15"/>
<circle cx="1017.2" cy="634.3" r="5.15"/>
<circle cx="1040.1" cy="551.7" r="5.15"/>
<circle cx="1035.1" cy="682.9" r="5.15"/>
<circle cx="1052.1" cy="665.0" r="5.15"/>
<circle cx="1063.0" cy="556.1" r="5.15"/>
<circle cx="1064.4" cy="537.2" r="5.15"/>
<circle cx="1064.4" cy="517.6" r="5.15"/>
<circle cx="1068.8" cy="520.4" r="5.15"/>
<circle cx="1074.4" cy="571.5" r="5.15"/>
<circle cx="1074.4" cy="578.5" r="5.15"/>
<circle cx="1073.6" cy="611.1" r="5.15"/>
<circle cx="1082.8" cy="621.5" r="5.15"/>
<circle cx="1096.8" cy="530.2" r="5.15"/>
</g>
<g fill="#0c72be">
<circle cx="1035.3" cy="570.4" r="5.15"/>
<circle cx="1039.5" cy="659.4" r="5.15"/>
<circle cx="1058.2" cy="686.3" r="5.15"/>
<circle cx="1057.7" cy="731.5" r="5.15"/>
<circle cx="1081.1" cy="674.2" r="5.15"/>
<circle cx="1089.5" cy="683.7" r="5.15"/>
<circle cx="1092.6" cy="596.6" r="5.15"/>
<circle cx="1134.2" cy="644.9" r="5.15"/>
<circle cx="1140.0" cy="635.4" r="5.15"/>
<circle cx="1141.4" cy="598.6" r="5.15"/>
<circle cx="1149.5" cy="594.4" r="5.15"/>
<circle cx="1136.4" cy="684.6" r="5.15"/>
<circle cx="1158.7" cy="656.7" r="5.15"/>
<circle cx="1169.1" cy="671.5" r="5.15"/>
<circle cx="1168.0" cy="746.0" r="5.15"/>
<circle cx="1223.8" cy="651.1" r="5.15"/>
<circle cx="1223.8" cy="744.0" r="5.15"/>
</g>
<path d="M910.3 625.5L914.9 624.4L919.6 623.2L924.3 622.1L929.0 620.9L933.6 619.8L938.3 618.6L943.0 617.4L947.7 616.2L952.3 615.0L957.0 613.8L961.7 612.5L966.4 611.2L971.1 609.9L975.7 608.6L980.4 607.2L985.1 605.7L989.8 604.2L994.4 602.7L999.1 601.0L1003.8 599.2L1008.5 597.4L1013.1 595.3L1017.8 593.1L1022.5 590.6L1027.2 587.8L1031.9 584.8L1036.5 581.4L1041.2 577.6L1045.9 573.4L1050.6 568.9L1055.2 564.1L1059.9 559.0L1064.6 553.7L1069.3 548.2L1073.9 542.6L1078.6 536.8L1083.3 530.9L1088.0 524.9L1092.6 518.9L1097.3 513.4L1097.3 592.3L1092.6 593.7L1088.0 595.2L1083.3 596.8L1078.6 598.4L1073.9 600.2L1069.3 602.0L1064.6 604.1L1059.9 606.3L1055.2 608.7L1050.6 611.5L1045.9 614.5L1041.2 617.9L1036.5 621.7L1031.9 625.8L1027.2 630.3L1022.5 635.0L1017.8 640.1L1013.1 645.4L1008.5 650.9L1003.8 656.5L999.1 662.3L994.4 668.2L989.8 674.2L985.1 680.2L980.4 686.3L975.7 692.5L971.1 698.7L966.4 704.9L961.7 711.1L957.0 717.4L952.3 723.7L947.7 730.0L943.0 736.4L938.3 742.7L933.6 749.1L929.0 755.5L924.3 761.9L919.6 768.2L914.9 774.6L910.3 779.6Z" fill="#999999" fill-opacity="0.4"/>
<path d="M910.3 703.3L1097.3 552.5" stroke="#c23b22" stroke-width="2.8" fill="none"/>
<path d="M1035.9 593.9L1040.6 596.8L1045.3 599.6L1050.0 602.4L1054.7 605.2L1059.4 607.9L1064.1 610.5L1068.8 613.1L1073.5 615.6L1078.2 618.0L1082.9 620.3L1087.6 622.5L1092.3 624.6L1097.0 626.5L1101.7 628.3L1106.4 629.8L1111.1 631.2L1115.8 632.4L1120.5 633.4L1125.2 634.2L1129.9 634.8L1134.5 635.2L1139.2 635.4L1143.9 635.5L1148.6 635.4L1153.3 635.1L1158.0 634.7L1162.7 634.2L1167.4 633.6L1172.1 633.0L1176.8 632.2L1181.5 631.4L1186.2 630.6L1190.9 629.6L1195.6 628.7L1200.3 627.7L1205.0 626.6L1209.7 625.6L1214.4 624.5L1219.1 623.4L1223.8 622.2L1223.8 738.5L1219.1 735.6L1214.4 732.6L1209.7 729.6L1205.0 726.7L1200.3 723.8L1195.6 721.0L1190.9 718.1L1186.2 715.4L1181.5 712.6L1176.8 710.0L1172.1 707.4L1167.4 704.8L1162.7 702.4L1158.0 700.1L1153.3 697.8L1148.6 695.7L1143.9 693.7L1139.2 691.9L1134.5 690.3L1129.9 688.8L1125.2 687.6L1120.5 686.5L1115.8 685.6L1111.1 685.0L1106.4 684.5L1101.7 684.2L1097.0 684.1L1092.3 684.2L1087.6 684.4L1082.9 684.8L1078.2 685.2L1073.5 685.8L1068.8 686.4L1064.1 687.1L1059.4 687.9L1054.7 688.8L1050.0 689.7L1045.3 690.6L1040.6 691.6L1035.9 692.6Z" fill="#999999" fill-opacity="0.4"/>
<path d="M1035.9 643.3L1223.8 680.4" stroke="#0c72be" stroke-width="2.8" fill="none"/>
<path d="M905.60 513.40V780.10H1229.90" fill="none" stroke="#262626" stroke-width="1.5"/>
<g font-size="12.1" fill="#4d4d4d">
<text x="974.80" y="796.80" text-anchor="middle">-0.04</text>
<text x="1056.10" y="796.80" text-anchor="middle">0.00</text>
<text x="1137.30" y="796.80" text-anchor="middle">0.04</text>
<text x="1218.30" y="796.80" text-anchor="middle">0.08</text>
<text x="898.30" y="522.50" text-anchor="end">4</text>
<text x="898.30" y="605.50" text-anchor="end">3</text>
<text x="898.30" y="688.70" text-anchor="end">2</text>
<text x="898.30" y="771.90" text-anchor="end">1</text>
</g>
<path d="M975.30 780.10v3.3M1056.60 780.10v3.3M1137.80 780.10v3.3M1218.80 780.10v3.3M905.60 518.40h-3.3M905.60 601.40h-3.3M905.60 684.60h-3.3M905.60 767.80h-3.3" stroke="#262626" stroke-width="1.1" fill="none"/>
<text x="927.0" y="813.9" font-size="15.6" fill="#111" textLength="282.0" lengthAdjust="spacingAndGlyphs">Time-aligned INS Increase of CH3-CH16</text>
<text transform="translate(883.8 647.2) rotate(-90)" font-size="15.1" text-anchor="middle" fill="#111">Novelty Score</text>
<rect x="1253.4" y="626.2" width="24.2" height="48.8" fill="#ffffff"/>
<circle cx="1265.6" cy="638.5" r="4.7" fill="#c23b22"/>
<rect x="1253.4" y="626.2" width="24.2" height="24.4" fill="#999999" fill-opacity="0.4"/>
<path d="M1255.8 638.5h19.4" stroke="#c23b22" stroke-width="2.9"/>
<text x="1285.6" y="642.8" font-size="12.2" fill="#111">creative</text>
<circle cx="1265.6" cy="663.0" r="4.7" fill="#0c72be"/>
<rect x="1253.4" y="650.6" width="24.2" height="24.4" fill="#999999" fill-opacity="0.4"/>
<path d="M1255.8 663.0h19.4" stroke="#0c72be" stroke-width="2.9"/>
<text x="1285.6" y="667.3" font-size="12.2" fill="#111">control</text>
<g fill="#c23b22">
<circle cx="924.0" cy="1052.6" r="5.15"/>
<circle cx="945.1" cy="1133.5" r="5.15"/>
<circle cx="980.8" cy="1049.3" r="5.15"/>
<circle cx="987.2" cy="1043.6" r="5.15"/>
<circle cx="994.8" cy="1032.4" r="5.15"/>
<circle cx="1003.3" cy="1052.9" r="5.15"/>
<circle cx="1004.1" cy="984.1" r="5.15"/>
<circle cx="1015.9" cy="1043.6" r="5.15"/>
<circle cx="1016.5" cy="1058.3" r="5.15"/>
<circle cx="1025.2" cy="1095.3" r="5.15"/>
<circle cx="1031.3" cy="1039.2" r="5.15"/>
<circle cx="1034.2" cy="998.1" r="5.15"/>
<circle cx="1035.6" cy="1050.9" r="5.15"/>
<circle cx="1044.0" cy="983.5" r="5.15"/>
<circle cx="1046.2" cy="992.5" r="5.15"/>
<circle cx="1060.3" cy="972.3" r="5.15"/>
<circle cx="1079.1" cy="979.0" r="5.15"/>
</g>
<g fill="#0c72be">
<circle cx="985.0" cy="1000.9" r="5.15"/>
<circle cx="1032.2" cy="904.6" r="5.15"/>
<circle cx="1039.8" cy="996.2" r="5.15"/>
<circle cx="1049.0" cy="970.1" r="5.15"/>
<circle cx="1078.0" cy="945.1" r="5.15"/>
<circle cx="1081.1" cy="970.9" r="5.15"/>
<circle cx="1096.8" cy="1000.9" r="5.15"/>
<circle cx="1103.5" cy="888.0" r="5.15"/>
<circle cx="1103.8" cy="1040.3" r="5.15"/>
<circle cx="1112.2" cy="990.6" r="5.15"/>
<circle cx="1129.7" cy="965.3" r="5.15"/>
<circle cx="1134.4" cy="884.4" r="5.15"/>
<circle cx="1135.3" cy="933.0" r="5.15"/>
<circle cx="1150.2" cy="1008.5" r="5.15"/>
<circle cx="1165.6" cy="1119.5" r="5.15"/>
<circle cx="1185.0" cy="979.0" r="5.15"/>
<circle cx="1199.3" cy="1028.5" r="5.15"/>
</g>
<path d="M924.0 1049.3L927.9 1048.4L931.8 1047.5L935.7 1046.5L939.6 1045.6L943.4 1044.6L947.3 1043.6L951.2 1042.6L955.1 1041.6L958.9 1040.5L962.8 1039.4L966.7 1038.3L970.6 1037.1L974.4 1035.9L978.3 1034.7L982.2 1033.3L986.1 1031.9L989.9 1030.4L993.8 1028.7L997.7 1026.9L1001.6 1024.9L1005.4 1022.7L1009.3 1020.3L1013.2 1017.7L1017.1 1014.8L1021.0 1011.7L1024.8 1008.4L1028.7 1004.8L1032.6 1001.1L1036.5 997.3L1040.3 993.3L1044.2 989.2L1048.1 985.0L1052.0 980.8L1055.8 976.5L1059.7 972.1L1063.6 967.8L1067.5 963.3L1071.3 958.9L1075.2 954.4L1079.1 949.9L1079.1 1022.8L1075.2 1023.8L1071.3 1024.8L1067.5 1025.9L1063.6 1027.0L1059.7 1028.1L1055.8 1029.2L1052.0 1030.4L1048.1 1031.7L1044.2 1033.0L1040.3 1034.5L1036.5 1036.0L1032.6 1037.6L1028.7 1039.4L1024.8 1041.4L1021.0 1043.6L1017.1 1046.0L1013.2 1048.6L1009.3 1051.5L1005.4 1054.6L1001.6 1057.9L997.7 1061.4L993.8 1065.1L989.9 1069.0L986.1 1072.9L982.2 1077.0L978.3 1081.2L974.4 1085.4L970.6 1089.7L966.7 1094.0L962.8 1098.4L958.9 1102.9L955.1 1107.3L951.2 1111.8L947.3 1116.3L943.4 1120.8L939.6 1125.3L935.7 1129.9L931.8 1134.4L927.9 1139.0L924.0 1141.9Z" fill="#999999" fill-opacity="0.4"/>
<path d="M924.0 1096.5L1079.1 986.3" stroke="#c23b22" stroke-width="2.8" fill="none"/>
<path d="M985.0 875.5L990.4 879.5L995.7 883.5L1001.1 887.6L1006.4 891.6L1011.8 895.6L1017.1 899.6L1022.5 903.5L1027.9 907.4L1033.2 911.2L1038.6 914.9L1043.9 918.6L1049.3 922.2L1054.7 925.7L1060.0 929.1L1065.4 932.4L1070.7 935.5L1076.1 938.4L1081.4 941.1L1086.8 943.6L1092.2 945.8L1097.5 947.7L1102.9 949.4L1108.2 950.7L1113.6 951.7L1119.0 952.4L1124.3 952.8L1129.7 953.0L1135.0 953.0L1140.4 952.7L1145.7 952.3L1151.1 951.8L1156.5 951.1L1161.8 950.3L1167.2 949.4L1172.5 948.5L1177.9 947.5L1183.3 946.4L1188.6 945.3L1194.0 944.1L1199.3 942.9L1199.3 1061.8L1194.0 1057.8L1188.6 1053.9L1183.3 1050.0L1177.9 1046.2L1172.5 1042.4L1167.2 1038.7L1161.8 1035.0L1156.5 1031.5L1151.1 1028.0L1145.7 1024.7L1140.4 1021.5L1135.0 1018.5L1129.7 1015.7L1124.3 1013.2L1119.0 1010.8L1113.6 1008.8L1108.2 1007.0L1102.9 1005.6L1097.5 1004.4L1092.2 1003.6L1086.8 1003.0L1081.4 1002.7L1076.1 1002.7L1070.7 1002.8L1065.4 1003.2L1060.0 1003.7L1054.7 1004.3L1049.3 1005.0L1043.9 1005.8L1038.6 1006.8L1033.2 1007.8L1027.9 1008.8L1022.5 1009.9L1017.1 1011.1L1011.8 1012.3L1006.4 1013.5L1001.1 1014.7L995.7 1016.0L990.4 1017.3L985.0 1018.7Z" fill="#999999" fill-opacity="0.4"/>
<path d="M985.0 947.0L1199.3 1002.4" stroke="#0c72be" stroke-width="2.8" fill="none"/>
<path d="M915.30 875.50V1142.40H1230.20" fill="none" stroke="#262626" stroke-width="1.5"/>
<g font-size="12.1" fill="#4d4d4d">
<text x="920.70" y="1159.10" text-anchor="middle">-0.05</text>
<text x="1022.40" y="1159.10" text-anchor="middle">0.00</text>
<text x="1123.80" y="1159.10" text-anchor="middle">0.05</text>
<text x="1225.20" y="1159.10" text-anchor="middle">0.10</text>
<text x="908.00" y="882.00" text-anchor="end">4.5</text>
<text x="908.00" y="935.40" text-anchor="end">4.0</text>
<text x="908.00" y="989.30" text-anchor="end">3.5</text>
<text x="908.00" y="1043.30" text-anchor="end">3.0</text>
<text x="908.00" y="1097.70" text-anchor="end">2.5</text>
</g>
<path d="M921.20 1142.40v3.3M1022.90 1142.40v3.3M1124.30 1142.40v3.3M1225.70 1142.40v3.3M915.30 877.90h-3.3M915.30 931.30h-3.3M915.30 985.20h-3.3M915.30 1039.20h-3.3M915.30 1093.60h-3.3" stroke="#262626" stroke-width="1.1" fill="none"/>
<text x="932.6" y="1177.7" font-size="15.6" fill="#111" textLength="280.0" lengthAdjust="spacingAndGlyphs">Time-aligned INS Increase of CH7-CH18</text>
<text transform="translate(885.2 1007.6) rotate(-90)" font-size="15.1" text-anchor="middle" fill="#111">Applicability Score</text>
<rect x="1253.4" y="987.6" width="24.2" height="48.8" fill="#ffffff"/>
<circle cx="1265.6" cy="999.9" r="4.7" fill="#c23b22"/>
<rect x="1253.4" y="987.6" width="24.2" height="24.4" fill="#999999" fill-opacity="0.4"/>
<path d="M1255.8 999.9h19.4" stroke="#c23b22" stroke-width="2.9"/>
<text x="1285.6" y="1004.2" font-size="12.2" fill="#111">creative</text>
<circle cx="1265.6" cy="1024.4" r="4.7" fill="#0c72be"/>
<rect x="1253.4" y="1012.0" width="24.2" height="24.4" fill="#999999" fill-opacity="0.4"/>
<path d="M1255.8 1024.4h19.4" stroke="#0c72be" stroke-width="2.9"/>
<text x="1285.6" y="1028.7" font-size="12.2" fill="#111">control</text>
<text x="914.1" y="551.2" font-size="15" font-style="italic" fill="#111" textLength="61.0" lengthAdjust="spacing">partial r</text>
<text x="978.6" y="551.2" font-size="15" fill="#111">=</text>
<text x="990.7" y="551.2" font-size="15" fill="#111">0.62</text>
<text x="924.1" y="578.0" font-size="15" font-style="italic" fill="#111">p</text>
<text x="934.4" y="580.6" font-size="10.6" font-style="italic" fill="#111" textLength="21.5" lengthAdjust="spacing">corr</text>
<text x="959.6" y="578.0" font-size="15" fill="#111">=</text>
<text x="971.9" y="578.0" font-size="15" fill="#111">0.027</text>
<text x="1105.7" y="742.8" font-size="15" font-style="italic" fill="#111" textLength="61.0" lengthAdjust="spacing">partial r</text>
<text x="1170.2" y="742.8" font-size="15" fill="#111">=</text>
<text x="1182.3" y="742.8" font-size="15" fill="#111">−0.22</text>
<text x="1121.1" y="768.6" font-size="15" font-style="italic" fill="#111">p</text>
<text x="1131.4" y="771.2" font-size="10.6" font-style="italic" fill="#111" textLength="21.5" lengthAdjust="spacing">corr</text>
<text x="1156.6" y="768.6" font-size="15" fill="#111">=</text>
<text x="1168.9" y="768.6" font-size="15" fill="#111">0.753</text>
<text x="1086.1" y="901.3" font-size="15" font-style="italic" fill="#111" textLength="61.0" lengthAdjust="spacing">partial r</text>
<text x="1150.6" y="901.3" font-size="15" fill="#111">=</text>
<text x="1162.7" y="901.3" font-size="15" fill="#111">−0.25</text>
<text x="1102.1" y="927.5" font-size="15" font-style="italic" fill="#111">p</text>
<text x="1112.4" y="930.1" font-size="10.6" font-style="italic" fill="#111" textLength="21.5" lengthAdjust="spacing">corr</text>
<text x="1137.6" y="927.5" font-size="15" fill="#111">=</text>
<text x="1149.9" y="927.5" font-size="15" fill="#111">0.492</text>
<text x="949.3" y="1106.4" font-size="15" font-style="italic" fill="#111" textLength="61.0" lengthAdjust="spacing">partial r</text>
<text x="1013.8" y="1106.4" font-size="15" fill="#111">=</text>
<text x="1025.9" y="1106.4" font-size="15" fill="#111">0.64</text>
<text x="958.9" y="1133.1" font-size="15" font-style="italic" fill="#111">p</text>
<text x="969.2" y="1135.7" font-size="10.6" font-style="italic" fill="#111" textLength="21.5" lengthAdjust="spacing">corr</text>
<text x="994.4" y="1133.1" font-size="15" fill="#111">=</text>
<text x="1006.7" y="1133.1" font-size="15" fill="#111">0.026</text>
</g>
</svg>
</body></html>
